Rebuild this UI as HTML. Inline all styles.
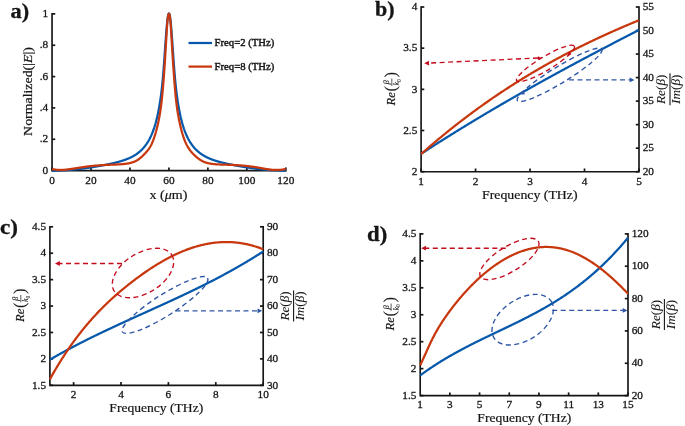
<!DOCTYPE html>
<html><head><meta charset="utf-8"><style>
html,body{margin:0;padding:0;background:#fff;}
svg{display:block;will-change:transform;}
text{font-family:"Liberation Serif",serif;fill:#151515;stroke:#151515;stroke-width:0.2px;}
text.tk{stroke-width:0.3px;}
text.lg{stroke-width:0.4px;}
text.pl{stroke-width:0.3px;}
text.thin{stroke-width:0.08px;}
</style></head><body>
<svg width="685" height="426" viewBox="0 0 685 426" font-family="Liberation Serif, serif">
<rect width="685" height="426" fill="#fff"/>
<path d="M52.05,13.900000000000006 L52.05,170.6 L285.8,170.6" fill="none" stroke="#151515" stroke-width="1.65" stroke-linejoin="miter" stroke-linecap="square"/>
<line x1="52.05" y1="170.60" x2="55.25" y2="170.60" stroke="#151515" stroke-width="1.7"/>
<line x1="52.05" y1="139.26" x2="55.25" y2="139.26" stroke="#151515" stroke-width="1.7"/>
<line x1="52.05" y1="107.92" x2="55.25" y2="107.92" stroke="#151515" stroke-width="1.7"/>
<line x1="52.05" y1="76.58" x2="55.25" y2="76.58" stroke="#151515" stroke-width="1.7"/>
<line x1="52.05" y1="45.24" x2="55.25" y2="45.24" stroke="#151515" stroke-width="1.7"/>
<line x1="52.05" y1="13.90" x2="55.25" y2="13.90" stroke="#151515" stroke-width="1.7"/>
<line x1="52.05" y1="170.60" x2="52.05" y2="167.40" stroke="#151515" stroke-width="1.7"/>
<line x1="91.01" y1="170.60" x2="91.01" y2="167.40" stroke="#151515" stroke-width="1.7"/>
<line x1="129.97" y1="170.60" x2="129.97" y2="167.40" stroke="#151515" stroke-width="1.7"/>
<line x1="168.93" y1="170.60" x2="168.93" y2="167.40" stroke="#151515" stroke-width="1.7"/>
<line x1="207.88" y1="170.60" x2="207.88" y2="167.40" stroke="#151515" stroke-width="1.7"/>
<line x1="246.84" y1="170.60" x2="246.84" y2="167.40" stroke="#151515" stroke-width="1.7"/>
<line x1="285.80" y1="170.60" x2="285.80" y2="167.40" stroke="#151515" stroke-width="1.7"/>
<text class="tk" transform="translate(48.25 173.80) scale(1.0 1)" font-size="11.3" text-anchor="end" font-weight="normal" font-style="normal" >0</text>
<text class="tk" transform="translate(48.25 142.46) scale(1.0 1)" font-size="11.3" text-anchor="end" font-weight="normal" font-style="normal" >.2</text>
<text class="tk" transform="translate(48.25 111.12) scale(1.0 1)" font-size="11.3" text-anchor="end" font-weight="normal" font-style="normal" >.4</text>
<text class="tk" transform="translate(48.25 79.78) scale(1.0 1)" font-size="11.3" text-anchor="end" font-weight="normal" font-style="normal" >.6</text>
<text class="tk" transform="translate(48.25 48.44) scale(1.0 1)" font-size="11.3" text-anchor="end" font-weight="normal" font-style="normal" >.8</text>
<text class="tk" transform="translate(48.25 17.10) scale(1.0 1)" font-size="11.3" text-anchor="end" font-weight="normal" font-style="normal" >1</text>
<text class="tk" transform="translate(52.05 183.50) scale(1.0 1)" font-size="11.3" text-anchor="middle" font-weight="normal" font-style="normal" >0</text>
<text class="tk" transform="translate(91.01 183.50) scale(1.0 1)" font-size="11.3" text-anchor="middle" font-weight="normal" font-style="normal" >20</text>
<text class="tk" transform="translate(129.97 183.50) scale(1.0 1)" font-size="11.3" text-anchor="middle" font-weight="normal" font-style="normal" >40</text>
<text class="tk" transform="translate(168.93 183.50) scale(1.0 1)" font-size="11.3" text-anchor="middle" font-weight="normal" font-style="normal" >60</text>
<text class="tk" transform="translate(207.88 183.50) scale(1.0 1)" font-size="11.3" text-anchor="middle" font-weight="normal" font-style="normal" >80</text>
<text class="tk" transform="translate(246.84 183.50) scale(1.0 1)" font-size="11.3" text-anchor="middle" font-weight="normal" font-style="normal" >100</text>
<text class="tk" transform="translate(285.80 183.50) scale(1.0 1)" font-size="11.3" text-anchor="middle" font-weight="normal" font-style="normal" >120</text>
<text transform="translate(149.59 198.60) scale(1.1047 1)" font-size="12.7" font-weight="normal" >x (<tspan font-style="italic">μ</tspan>m)</text>
<g transform="translate(32.2 135.5) rotate(-90)"><text transform="translate(-0.38 0) scale(1.1563 1)" font-size="12.0">Normalized(|<tspan font-style="italic">E</tspan>|)</text></g>
<text transform="translate(10.57 18.30) scale(1.0990 1)" font-size="20.3" font-weight="bold" class="pl">a)</text>
<path d="M52.05,170.65 L52.20,170.65 L52.34,170.65 L52.49,170.65 L52.63,170.65 L52.78,170.64 L52.93,170.64 L53.07,170.64 L53.22,170.64 L53.36,170.64 L53.51,170.64 L53.66,170.63 L53.80,170.63 L53.95,170.63 L54.10,170.63 L54.24,170.63 L54.39,170.62 L54.53,170.62 L54.68,170.62 L54.83,170.62 L54.97,170.61 L55.12,170.61 L55.26,170.61 L55.41,170.61 L55.56,170.60 L55.70,170.60 L55.85,170.60 L55.99,170.59 L56.14,170.59 L56.29,170.59 L56.43,170.58 L56.58,170.58 L56.72,170.58 L56.87,170.57 L57.02,170.57 L57.16,170.57 L57.31,170.56 L57.46,170.56 L57.60,170.55 L57.75,170.55 L57.89,170.54 L58.04,170.54 L58.19,170.54 L58.33,170.53 L58.48,170.53 L58.62,170.52 L58.77,170.52 L58.92,170.51 L59.06,170.51 L59.21,170.50 L59.35,170.50 L59.50,170.49 L59.65,170.49 L59.79,170.48 L59.94,170.48 L60.09,170.47 L60.23,170.47 L60.38,170.46 L60.52,170.45 L60.67,170.45 L60.82,170.44 L60.96,170.44 L61.11,170.43 L61.25,170.42 L61.40,170.42 L61.55,170.41 L61.69,170.41 L61.84,170.40 L61.98,170.39 L62.13,170.39 L62.28,170.38 L62.42,170.37 L62.57,170.37 L62.71,170.36 L62.86,170.35 L63.01,170.34 L63.15,170.34 L63.30,170.33 L63.45,170.32 L63.59,170.32 L63.74,170.31 L63.88,170.30 L64.03,170.29 L64.18,170.28 L64.32,170.28 L64.47,170.27 L64.61,170.26 L64.76,170.25 L64.91,170.24 L65.05,170.24 L65.20,170.23 L65.34,170.22 L65.49,170.21 L65.64,170.20 L65.78,170.19 L65.93,170.18 L66.07,170.17 L66.22,170.17 L66.37,170.16 L66.51,170.15 L66.66,170.14 L66.81,170.13 L66.95,170.12 L67.10,170.11 L67.24,170.10 L67.39,170.09 L67.54,170.08 L67.68,170.07 L67.83,170.06 L67.97,170.05 L68.12,170.04 L68.27,170.03 L68.41,170.02 L68.56,170.01 L68.70,170.00 L68.85,169.99 L69.00,169.98 L69.14,169.97 L69.29,169.96 L69.44,169.95 L69.58,169.93 L69.73,169.92 L69.87,169.91 L70.02,169.90 L70.17,169.89 L70.31,169.88 L70.46,169.87 L70.60,169.85 L70.75,169.84 L70.90,169.83 L71.04,169.82 L71.19,169.81 L71.33,169.80 L71.48,169.78 L71.63,169.77 L71.77,169.76 L71.92,169.75 L72.06,169.73 L72.21,169.72 L72.36,169.71 L72.50,169.70 L72.65,169.68 L72.80,169.67 L72.94,169.66 L73.09,169.64 L73.23,169.63 L73.38,169.62 L73.53,169.60 L73.67,169.59 L73.82,169.58 L73.96,169.56 L74.11,169.55 L74.26,169.54 L74.40,169.52 L74.55,169.51 L74.69,169.49 L74.84,169.48 L74.99,169.47 L75.13,169.45 L75.28,169.44 L75.42,169.42 L75.57,169.41 L75.72,169.39 L75.86,169.38 L76.01,169.36 L76.16,169.35 L76.30,169.33 L76.45,169.32 L76.59,169.30 L76.74,169.29 L76.89,169.27 L77.03,169.26 L77.18,169.24 L77.32,169.23 L77.47,169.21 L77.62,169.19 L77.76,169.18 L77.91,169.16 L78.05,169.15 L78.20,169.13 L78.35,169.11 L78.49,169.10 L78.64,169.08 L78.79,169.06 L78.93,169.05 L79.08,169.03 L79.22,169.01 L79.37,169.00 L79.52,168.98 L79.66,168.96 L79.81,168.95 L79.95,168.93 L80.10,168.91 L80.25,168.89 L80.39,168.88 L80.54,168.86 L80.68,168.84 L80.83,168.82 L80.98,168.81 L81.12,168.79 L81.27,168.77 L81.41,168.75 L81.56,168.73 L81.71,168.72 L81.85,168.70 L82.00,168.68 L82.15,168.66 L82.29,168.64 L82.44,168.62 L82.58,168.61 L82.73,168.59 L82.88,168.57 L83.02,168.55 L83.17,168.53 L83.31,168.51 L83.46,168.49 L83.61,168.47 L83.75,168.45 L83.90,168.43 L84.04,168.41 L84.19,168.39 L84.34,168.37 L84.48,168.35 L84.63,168.34 L84.78,168.32 L84.92,168.30 L85.07,168.28 L85.21,168.25 L85.36,168.23 L85.51,168.21 L85.65,168.19 L85.80,168.17 L85.94,168.15 L86.09,168.13 L86.24,168.11 L86.38,168.09 L86.53,168.07 L86.67,168.05 L86.82,168.03 L86.97,168.01 L87.11,167.99 L87.26,167.96 L87.40,167.94 L87.55,167.92 L87.70,167.90 L87.84,167.88 L87.99,167.86 L88.14,167.83 L88.28,167.81 L88.43,167.79 L88.57,167.77 L88.72,167.75 L88.87,167.73 L89.01,167.70 L89.16,167.68 L89.30,167.66 L89.45,167.64 L89.60,167.61 L89.74,167.59 L89.89,167.57 L90.03,167.55 L90.18,167.52 L90.33,167.50 L90.47,167.48 L90.62,167.45 L90.76,167.43 L90.91,167.41 L91.06,167.39 L91.20,167.36 L91.35,167.34 L91.50,167.32 L91.64,167.29 L91.79,167.27 L91.93,167.24 L92.08,167.22 L92.23,167.20 L92.37,167.17 L92.52,167.15 L92.66,167.13 L92.81,167.10 L92.96,167.08 L93.10,167.05 L93.25,167.03 L93.39,167.01 L93.54,166.98 L93.69,166.96 L93.83,166.93 L93.98,166.91 L94.12,166.88 L94.27,166.86 L94.42,166.83 L94.56,166.81 L94.71,166.78 L94.86,166.76 L95.00,166.73 L95.15,166.71 L95.29,166.68 L95.44,166.66 L95.59,166.63 L95.73,166.61 L95.88,166.58 L96.02,166.56 L96.17,166.53 L96.32,166.51 L96.46,166.48 L96.61,166.46 L96.75,166.43 L96.90,166.41 L97.05,166.38 L97.19,166.36 L97.34,166.33 L97.49,166.30 L97.63,166.28 L97.78,166.25 L97.92,166.23 L98.07,166.20 L98.22,166.17 L98.36,166.15 L98.51,166.12 L98.65,166.10 L98.80,166.07 L98.95,166.04 L99.09,166.02 L99.24,165.99 L99.38,165.97 L99.53,165.94 L99.68,165.91 L99.82,165.89 L99.97,165.86 L100.11,165.83 L100.26,165.81 L100.41,165.78 L100.55,165.75 L100.70,165.73 L100.85,165.70 L100.99,165.67 L101.14,165.65 L101.28,165.62 L101.43,165.59 L101.58,165.57 L101.72,165.54 L101.87,165.51 L102.01,165.48 L102.16,165.46 L102.31,165.43 L102.45,165.40 L102.60,165.38 L102.74,165.35 L102.89,165.32 L103.04,165.29 L103.18,165.27 L103.33,165.24 L103.47,165.21 L103.62,165.18 L103.77,165.15 L103.91,165.13 L104.06,165.10 L104.21,165.07 L104.35,165.04 L104.50,165.01 L104.64,164.99 L104.79,164.96 L104.94,164.93 L105.08,164.90 L105.23,164.87 L105.37,164.84 L105.52,164.82 L105.67,164.79 L105.81,164.76 L105.96,164.73 L106.10,164.70 L106.25,164.67 L106.40,164.64 L106.54,164.61 L106.69,164.58 L106.84,164.55 L106.98,164.53 L107.13,164.50 L107.27,164.47 L107.42,164.44 L107.57,164.41 L107.71,164.38 L107.86,164.35 L108.00,164.32 L108.15,164.29 L108.30,164.26 L108.44,164.23 L108.59,164.20 L108.73,164.17 L108.88,164.14 L109.03,164.10 L109.17,164.07 L109.32,164.04 L109.46,164.01 L109.61,163.98 L109.76,163.95 L109.90,163.92 L110.05,163.89 L110.20,163.86 L110.34,163.82 L110.49,163.79 L110.63,163.76 L110.78,163.73 L110.93,163.70 L111.07,163.67 L111.22,163.63 L111.36,163.60 L111.51,163.57 L111.66,163.54 L111.80,163.50 L111.95,163.47 L112.09,163.44 L112.24,163.40 L112.39,163.37 L112.53,163.34 L112.68,163.30 L112.82,163.27 L112.97,163.24 L113.12,163.20 L113.26,163.17 L113.41,163.14 L113.56,163.10 L113.70,163.07 L113.85,163.03 L113.99,163.00 L114.14,162.96 L114.29,162.93 L114.43,162.89 L114.58,162.86 L114.72,162.82 L114.87,162.79 L115.02,162.75 L115.16,162.72 L115.31,162.68 L115.45,162.64 L115.60,162.61 L115.75,162.57 L115.89,162.53 L116.04,162.50 L116.19,162.46 L116.33,162.42 L116.48,162.39 L116.62,162.35 L116.77,162.31 L116.92,162.27 L117.06,162.24 L117.21,162.20 L117.35,162.16 L117.50,162.12 L117.65,162.08 L117.79,162.04 L117.94,162.00 L118.08,161.96 L118.23,161.92 L118.38,161.88 L118.52,161.84 L118.67,161.80 L118.81,161.76 L118.96,161.72 L119.11,161.68 L119.25,161.64 L119.40,161.60 L119.55,161.56 L119.69,161.52 L119.84,161.48 L119.98,161.43 L120.13,161.39 L120.28,161.35 L120.42,161.31 L120.57,161.26 L120.71,161.22 L120.86,161.18 L121.01,161.13 L121.15,161.09 L121.30,161.04 L121.44,161.00 L121.59,160.95 L121.74,160.91 L121.88,160.86 L122.03,160.82 L122.17,160.77 L122.32,160.73 L122.47,160.68 L122.61,160.63 L122.76,160.59 L122.91,160.54 L123.05,160.49 L123.20,160.44 L123.34,160.39 L123.49,160.35 L123.64,160.30 L123.78,160.25 L123.93,160.20 L124.07,160.15 L124.22,160.10 L124.37,160.05 L124.51,160.00 L124.66,159.95 L124.80,159.89 L124.95,159.84 L125.10,159.79 L125.24,159.74 L125.39,159.68 L125.54,159.63 L125.68,159.58 L125.83,159.52 L125.97,159.47 L126.12,159.41 L126.27,159.36 L126.41,159.30 L126.56,159.25 L126.70,159.19 L126.85,159.13 L127.00,159.08 L127.14,159.02 L127.29,158.96 L127.43,158.90 L127.58,158.84 L127.73,158.78 L127.87,158.72 L128.02,158.66 L128.16,158.60 L128.31,158.54 L128.46,158.48 L128.60,158.42 L128.75,158.35 L128.90,158.29 L129.04,158.23 L129.19,158.16 L129.33,158.10 L129.48,158.03 L129.63,157.97 L129.77,157.90 L129.92,157.83 L130.06,157.77 L130.21,157.70 L130.36,157.63 L130.50,157.56 L130.65,157.49 L130.79,157.42 L130.94,157.35 L131.09,157.28 L131.23,157.21 L131.38,157.13 L131.52,157.06 L131.67,156.99 L131.82,156.91 L131.96,156.84 L132.11,156.76 L132.26,156.68 L132.40,156.61 L132.55,156.53 L132.69,156.45 L132.84,156.37 L132.99,156.29 L133.13,156.21 L133.28,156.13 L133.42,156.05 L133.57,155.96 L133.72,155.88 L133.86,155.79 L134.01,155.71 L134.15,155.62 L134.30,155.53 L134.45,155.45 L134.59,155.36 L134.74,155.27 L134.89,155.18 L135.03,155.09 L135.18,154.99 L135.32,154.90 L135.47,154.81 L135.62,154.71 L135.76,154.62 L135.91,154.52 L136.05,154.42 L136.20,154.32 L136.35,154.22 L136.49,154.12 L136.64,154.02 L136.78,153.92 L136.93,153.81 L137.08,153.71 L137.22,153.60 L137.37,153.49 L137.51,153.39 L137.66,153.28 L137.81,153.17 L137.95,153.06 L138.10,152.94 L138.25,152.83 L138.39,152.72 L138.54,152.60 L138.68,152.48 L138.83,152.36 L138.98,152.24 L139.12,152.12 L139.27,152.00 L139.41,151.88 L139.56,151.75 L139.71,151.63 L139.85,151.50 L140.00,151.37 L140.14,151.24 L140.29,151.11 L140.44,150.98 L140.58,150.84 L140.73,150.71 L140.88,150.57 L141.02,150.43 L141.17,150.29 L141.31,150.15 L141.46,150.01 L141.61,149.87 L141.75,149.72 L141.90,149.57 L142.04,149.42 L142.19,149.27 L142.34,149.12 L142.48,148.97 L142.63,148.81 L142.77,148.65 L142.92,148.50 L143.07,148.33 L143.21,148.17 L143.36,148.01 L143.50,147.84 L143.65,147.67 L143.80,147.50 L143.94,147.33 L144.09,147.16 L144.24,146.98 L144.38,146.80 L144.53,146.62 L144.67,146.44 L144.82,146.26 L144.97,146.07 L145.11,145.88 L145.26,145.69 L145.40,145.50 L145.55,145.30 L145.70,145.10 L145.84,144.90 L145.99,144.70 L146.13,144.50 L146.28,144.29 L146.43,144.08 L146.57,143.87 L146.72,143.65 L146.86,143.43 L147.01,143.21 L147.16,142.99 L147.30,142.76 L147.45,142.54 L147.60,142.30 L147.74,142.07 L147.89,141.83 L148.03,141.59 L148.18,141.35 L148.33,141.10 L148.47,140.85 L148.62,140.60 L148.76,140.34 L148.91,140.08 L149.06,139.82 L149.20,139.55 L149.35,139.28 L149.49,139.01 L149.64,138.73 L149.79,138.45 L149.93,138.17 L150.08,137.88 L150.22,137.59 L150.37,137.29 L150.52,136.99 L150.66,136.68 L150.81,136.37 L150.96,136.06 L151.10,135.74 L151.25,135.42 L151.39,135.09 L151.54,134.76 L151.69,134.42 L151.83,134.08 L151.98,133.74 L152.12,133.38 L152.27,133.03 L152.42,132.67 L152.56,132.30 L152.71,131.92 L152.85,131.55 L153.00,131.16 L153.15,130.77 L153.29,130.37 L153.44,129.97 L153.59,129.56 L153.73,129.15 L153.88,128.72 L154.02,128.30 L154.17,127.86 L154.32,127.42 L154.46,126.97 L154.61,126.51 L154.75,126.04 L154.90,125.57 L155.05,125.09 L155.19,124.60 L155.34,124.11 L155.48,123.60 L155.63,123.08 L155.78,122.56 L155.92,122.03 L156.07,121.49 L156.21,120.94 L156.36,120.37 L156.51,119.80 L156.65,119.22 L156.80,118.63 L156.95,118.02 L157.09,117.41 L157.24,116.78 L157.38,116.14 L157.53,115.49 L157.68,114.83 L157.82,114.15 L157.97,113.46 L158.11,112.76 L158.26,112.04 L158.41,111.31 L158.55,110.56 L158.70,109.80 L158.84,109.02 L158.99,108.22 L159.14,107.41 L159.28,106.58 L159.43,105.73 L159.57,104.87 L159.72,103.98 L159.87,103.08 L160.01,102.16 L160.16,101.21 L160.31,100.24 L160.45,99.25 L160.60,98.24 L160.74,97.20 L160.89,96.14 L161.04,95.04 L161.18,93.92 L161.33,92.77 L161.47,91.58 L161.62,90.36 L161.77,89.11 L161.91,87.81 L162.06,86.47 L162.20,85.09 L162.35,83.66 L162.50,82.18 L162.64,80.65 L162.79,79.07 L162.94,77.43 L163.08,75.73 L163.23,73.98 L163.37,72.18 L163.52,70.33 L163.67,68.43 L163.81,66.49 L163.96,64.51 L164.10,62.49 L164.25,60.44 L164.40,58.35 L164.54,56.25 L164.69,54.13 L164.83,52.00 L164.98,49.87 L165.13,47.74 L165.27,45.63 L165.42,43.55 L165.56,41.50 L165.71,39.49 L165.86,37.52 L166.00,35.59 L166.15,33.72 L166.30,31.89 L166.44,30.12 L166.59,28.42 L166.73,26.78 L166.88,25.21 L167.03,23.72 L167.17,22.31 L167.32,20.99 L167.46,19.75 L167.61,18.62 L167.76,17.59 L167.90,16.66 L168.05,15.84 L168.19,15.14 L168.34,14.55 L168.49,14.09 L168.63,13.74 L168.78,13.52 L168.93,13.42 L169.07,13.45 L169.22,13.61 L169.36,13.89 L169.51,14.30 L169.66,14.83 L169.80,15.49 L169.95,16.28 L170.09,17.19 L170.24,18.21 L170.39,19.36 L170.53,20.61 L170.68,21.97 L170.82,23.43 L170.97,24.98 L171.12,26.62 L171.26,28.32 L171.41,30.10 L171.55,31.93 L171.70,33.82 L171.85,35.76 L171.99,37.74 L172.14,39.75 L172.29,41.80 L172.43,43.87 L172.58,45.97 L172.72,48.08 L172.87,50.20 L173.02,52.32 L173.16,54.43 L173.31,56.52 L173.45,58.60 L173.60,60.65 L173.75,62.67 L173.89,64.66 L174.04,66.60 L174.18,68.51 L174.33,70.38 L174.48,72.20 L174.62,73.97 L174.77,75.70 L174.91,77.37 L175.06,78.99 L175.21,80.56 L175.35,82.08 L175.50,83.55 L175.65,84.97 L175.79,86.35 L175.94,87.69 L176.08,88.99 L176.23,90.25 L176.38,91.47 L176.52,92.67 L176.67,93.82 L176.81,94.95 L176.96,96.05 L177.11,97.12 L177.25,98.17 L177.40,99.19 L177.54,100.19 L177.69,101.16 L177.84,102.11 L177.98,103.04 L178.13,103.95 L178.27,104.84 L178.42,105.71 L178.57,106.56 L178.71,107.40 L178.86,108.21 L179.01,109.01 L179.15,109.79 L179.30,110.56 L179.44,111.31 L179.59,112.05 L179.74,112.77 L179.88,113.47 L180.03,114.16 L180.17,114.84 L180.32,115.51 L180.47,116.16 L180.61,116.80 L180.76,117.43 L180.90,118.05 L181.05,118.65 L181.20,119.25 L181.34,119.83 L181.49,120.40 L181.64,120.97 L181.78,121.52 L181.93,122.06 L182.07,122.60 L182.22,123.12 L182.37,123.63 L182.51,124.14 L182.66,124.64 L182.80,125.13 L182.95,125.61 L183.10,126.08 L183.24,126.55 L183.39,127.00 L183.53,127.45 L183.68,127.90 L183.83,128.33 L183.97,128.76 L184.12,129.18 L184.26,129.60 L184.41,130.01 L184.56,130.41 L184.70,130.81 L184.85,131.20 L185.00,131.58 L185.14,131.96 L185.29,132.33 L185.43,132.70 L185.58,133.06 L185.73,133.42 L185.87,133.77 L186.02,134.11 L186.16,134.46 L186.31,134.79 L186.46,135.12 L186.60,135.45 L186.75,135.77 L186.89,136.09 L187.04,136.40 L187.19,136.71 L187.33,137.01 L187.48,137.32 L187.62,137.61 L187.77,137.90 L187.92,138.19 L188.06,138.48 L188.21,138.76 L188.36,139.03 L188.50,139.31 L188.65,139.57 L188.79,139.84 L188.94,140.10 L189.09,140.36 L189.23,140.62 L189.38,140.87 L189.52,141.12 L189.67,141.36 L189.82,141.61 L189.96,141.85 L190.11,142.08 L190.25,142.32 L190.40,142.55 L190.55,142.78 L190.69,143.00 L190.84,143.22 L190.99,143.44 L191.13,143.66 L191.28,143.87 L191.42,144.09 L191.57,144.29 L191.72,144.50 L191.86,144.71 L192.01,144.91 L192.15,145.11 L192.30,145.30 L192.45,145.50 L192.59,145.69 L192.74,145.88 L192.88,146.07 L193.03,146.25 L193.18,146.44 L193.32,146.62 L193.47,146.80 L193.61,146.98 L193.76,147.15 L193.91,147.33 L194.05,147.50 L194.20,147.67 L194.35,147.83 L194.49,148.00 L194.64,148.16 L194.78,148.33 L194.93,148.49 L195.08,148.65 L195.22,148.80 L195.37,148.96 L195.51,149.11 L195.66,149.26 L195.81,149.41 L195.95,149.56 L196.10,149.71 L196.24,149.85 L196.39,150.00 L196.54,150.14 L196.68,150.28 L196.83,150.42 L196.97,150.56 L197.12,150.69 L197.27,150.83 L197.41,150.96 L197.56,151.09 L197.71,151.23 L197.85,151.35 L198.00,151.48 L198.14,151.61 L198.29,151.74 L198.44,151.86 L198.58,151.98 L198.73,152.10 L198.87,152.22 L199.02,152.34 L199.17,152.46 L199.31,152.58 L199.46,152.69 L199.60,152.81 L199.75,152.92 L199.90,153.03 L200.04,153.15 L200.19,153.26 L200.34,153.36 L200.48,153.47 L200.63,153.58 L200.77,153.68 L200.92,153.79 L201.07,153.89 L201.21,154.00 L201.36,154.10 L201.50,154.20 L201.65,154.30 L201.80,154.40 L201.94,154.49 L202.09,154.59 L202.23,154.69 L202.38,154.78 L202.53,154.88 L202.67,154.97 L202.82,155.06 L202.96,155.15 L203.11,155.24 L203.26,155.33 L203.40,155.42 L203.55,155.51 L203.70,155.60 L203.84,155.68 L203.99,155.77 L204.13,155.85 L204.28,155.94 L204.43,156.02 L204.57,156.10 L204.72,156.19 L204.86,156.27 L205.01,156.35 L205.16,156.43 L205.30,156.51 L205.45,156.58 L205.59,156.66 L205.74,156.74 L205.89,156.81 L206.03,156.89 L206.18,156.96 L206.32,157.04 L206.47,157.11 L206.62,157.18 L206.76,157.26 L206.91,157.33 L207.06,157.40 L207.20,157.47 L207.35,157.54 L207.49,157.61 L207.64,157.68 L207.79,157.75 L207.93,157.81 L208.08,157.88 L208.22,157.95 L208.37,158.01 L208.52,158.08 L208.66,158.14 L208.81,158.21 L208.95,158.27 L209.10,158.34 L209.25,158.40 L209.39,158.46 L209.54,158.52 L209.69,158.59 L209.83,158.65 L209.98,158.71 L210.12,158.77 L210.27,158.83 L210.42,158.89 L210.56,158.94 L210.71,159.00 L210.85,159.06 L211.00,159.12 L211.15,159.18 L211.29,159.23 L211.44,159.29 L211.58,159.34 L211.73,159.40 L211.88,159.46 L212.02,159.51 L212.17,159.56 L212.31,159.62 L212.46,159.67 L212.61,159.72 L212.75,159.78 L212.90,159.83 L213.05,159.88 L213.19,159.93 L213.34,159.99 L213.48,160.04 L213.63,160.09 L213.78,160.14 L213.92,160.19 L214.07,160.24 L214.21,160.29 L214.36,160.34 L214.51,160.39 L214.65,160.43 L214.80,160.48 L214.94,160.53 L215.09,160.58 L215.24,160.63 L215.38,160.67 L215.53,160.72 L215.68,160.77 L215.82,160.81 L215.97,160.86 L216.11,160.90 L216.26,160.95 L216.41,160.99 L216.55,161.04 L216.70,161.08 L216.84,161.13 L216.99,161.17 L217.14,161.22 L217.28,161.26 L217.43,161.30 L217.57,161.35 L217.72,161.39 L217.87,161.43 L218.01,161.47 L218.16,161.52 L218.30,161.56 L218.45,161.60 L218.60,161.64 L218.74,161.68 L218.89,161.72 L219.04,161.76 L219.18,161.80 L219.33,161.84 L219.47,161.88 L219.62,161.92 L219.77,161.96 L219.91,162.00 L220.06,162.04 L220.20,162.08 L220.35,162.12 L220.50,162.16 L220.64,162.20 L220.79,162.24 L220.93,162.28 L221.08,162.31 L221.23,162.35 L221.37,162.39 L221.52,162.43 L221.66,162.46 L221.81,162.50 L221.96,162.54 L222.10,162.58 L222.25,162.61 L222.40,162.65 L222.54,162.68 L222.69,162.72 L222.83,162.76 L222.98,162.79 L223.13,162.83 L223.27,162.86 L223.42,162.90 L223.56,162.93 L223.71,162.97 L223.86,163.00 L224.00,163.04 L224.15,163.07 L224.29,163.11 L224.44,163.14 L224.59,163.18 L224.73,163.21 L224.88,163.25 L225.02,163.28 L225.17,163.31 L225.32,163.35 L225.46,163.38 L225.61,163.41 L225.76,163.45 L225.90,163.48 L226.05,163.51 L226.19,163.55 L226.34,163.58 L226.49,163.61 L226.63,163.64 L226.78,163.68 L226.92,163.71 L227.07,163.74 L227.22,163.77 L227.36,163.80 L227.51,163.84 L227.65,163.87 L227.80,163.90 L227.95,163.93 L228.09,163.96 L228.24,163.99 L228.39,164.02 L228.53,164.05 L228.68,164.09 L228.82,164.12 L228.97,164.15 L229.12,164.18 L229.26,164.21 L229.41,164.24 L229.55,164.27 L229.70,164.30 L229.85,164.33 L229.99,164.36 L230.14,164.39 L230.28,164.42 L230.43,164.45 L230.58,164.48 L230.72,164.51 L230.87,164.54 L231.01,164.57 L231.16,164.60 L231.31,164.63 L231.45,164.66 L231.60,164.69 L231.75,164.71 L231.89,164.74 L232.04,164.77 L232.18,164.80 L232.33,164.83 L232.48,164.86 L232.62,164.89 L232.77,164.92 L232.91,164.94 L233.06,164.97 L233.21,165.00 L233.35,165.03 L233.50,165.06 L233.64,165.09 L233.79,165.11 L233.94,165.14 L234.08,165.17 L234.23,165.20 L234.38,165.23 L234.52,165.25 L234.67,165.28 L234.81,165.31 L234.96,165.34 L235.11,165.36 L235.25,165.39 L235.40,165.42 L235.54,165.45 L235.69,165.47 L235.84,165.50 L235.98,165.53 L236.13,165.55 L236.27,165.58 L236.42,165.61 L236.57,165.63 L236.71,165.66 L236.86,165.69 L237.00,165.72 L237.15,165.74 L237.30,165.77 L237.44,165.80 L237.59,165.82 L237.74,165.85 L237.88,165.87 L238.03,165.90 L238.17,165.93 L238.32,165.95 L238.47,165.98 L238.61,166.01 L238.76,166.03 L238.90,166.06 L239.05,166.08 L239.20,166.11 L239.34,166.14 L239.49,166.16 L239.63,166.19 L239.78,166.21 L239.93,166.24 L240.07,166.27 L240.22,166.29 L240.36,166.32 L240.51,166.34 L240.66,166.37 L240.80,166.39 L240.95,166.42 L241.10,166.44 L241.24,166.47 L241.39,166.50 L241.53,166.52 L241.68,166.55 L241.83,166.57 L241.97,166.60 L242.12,166.62 L242.26,166.65 L242.41,166.67 L242.56,166.70 L242.70,166.72 L242.85,166.75 L242.99,166.77 L243.14,166.80 L243.29,166.82 L243.43,166.84 L243.58,166.87 L243.72,166.89 L243.87,166.92 L244.02,166.94 L244.16,166.97 L244.31,166.99 L244.46,167.02 L244.60,167.04 L244.75,167.06 L244.89,167.09 L245.04,167.11 L245.19,167.14 L245.33,167.16 L245.48,167.18 L245.62,167.21 L245.77,167.23 L245.92,167.25 L246.06,167.28 L246.21,167.30 L246.35,167.32 L246.50,167.35 L246.65,167.37 L246.79,167.39 L246.94,167.42 L247.09,167.44 L247.23,167.46 L247.38,167.48 L247.52,167.51 L247.67,167.53 L247.82,167.55 L247.96,167.58 L248.11,167.60 L248.25,167.62 L248.40,167.64 L248.55,167.66 L248.69,167.69 L248.84,167.71 L248.98,167.73 L249.13,167.75 L249.28,167.77 L249.42,167.80 L249.57,167.82 L249.71,167.84 L249.86,167.86 L250.01,167.88 L250.15,167.90 L250.30,167.93 L250.45,167.95 L250.59,167.97 L250.74,167.99 L250.88,168.01 L251.03,168.03 L251.18,168.05 L251.32,168.07 L251.47,168.09 L251.61,168.11 L251.76,168.13 L251.91,168.16 L252.05,168.18 L252.20,168.20 L252.34,168.22 L252.49,168.24 L252.64,168.26 L252.78,168.28 L252.93,168.30 L253.07,168.32 L253.22,168.34 L253.37,168.36 L253.51,168.38 L253.66,168.40 L253.81,168.41 L253.95,168.43 L254.10,168.45 L254.24,168.47 L254.39,168.49 L254.54,168.51 L254.68,168.53 L254.83,168.55 L254.97,168.57 L255.12,168.59 L255.27,168.60 L255.41,168.62 L255.56,168.64 L255.70,168.66 L255.85,168.68 L256.00,168.70 L256.14,168.72 L256.29,168.73 L256.44,168.75 L256.58,168.77 L256.73,168.79 L256.87,168.80 L257.02,168.82 L257.17,168.84 L257.31,168.86 L257.46,168.87 L257.60,168.89 L257.75,168.91 L257.90,168.93 L258.04,168.94 L258.19,168.96 L258.33,168.98 L258.48,168.99 L258.63,169.01 L258.77,169.03 L258.92,169.04 L259.06,169.06 L259.21,169.08 L259.36,169.09 L259.50,169.11 L259.65,169.13 L259.80,169.14 L259.94,169.16 L260.09,169.17 L260.23,169.19 L260.38,169.21 L260.53,169.22 L260.67,169.24 L260.82,169.25 L260.96,169.27 L261.11,169.28 L261.26,169.30 L261.40,169.31 L261.55,169.33 L261.69,169.34 L261.84,169.36 L261.99,169.37 L262.13,169.39 L262.28,169.40 L262.43,169.42 L262.57,169.43 L262.72,169.44 L262.86,169.46 L263.01,169.47 L263.16,169.49 L263.30,169.50 L263.45,169.52 L263.59,169.53 L263.74,169.54 L263.89,169.56 L264.03,169.57 L264.18,169.58 L264.32,169.60 L264.47,169.61 L264.62,169.62 L264.76,169.64 L264.91,169.65 L265.05,169.66 L265.20,169.68 L265.35,169.69 L265.49,169.70 L265.64,169.71 L265.79,169.73 L265.93,169.74 L266.08,169.75 L266.22,169.76 L266.37,169.78 L266.52,169.79 L266.66,169.80 L266.81,169.81 L266.95,169.82 L267.10,169.84 L267.25,169.85 L267.39,169.86 L267.54,169.87 L267.68,169.88 L267.83,169.89 L267.98,169.90 L268.12,169.92 L268.27,169.93 L268.41,169.94 L268.56,169.95 L268.71,169.96 L268.85,169.97 L269.00,169.98 L269.15,169.99 L269.29,170.00 L269.44,170.01 L269.58,170.02 L269.73,170.03 L269.88,170.04 L270.02,170.05 L270.17,170.06 L270.31,170.07 L270.46,170.08 L270.61,170.09 L270.75,170.10 L270.90,170.11 L271.04,170.12 L271.19,170.13 L271.34,170.14 L271.48,170.15 L271.63,170.16 L271.77,170.17 L271.92,170.18 L272.07,170.19 L272.21,170.19 L272.36,170.20 L272.51,170.21 L272.65,170.22 L272.80,170.23 L272.94,170.24 L273.09,170.24 L273.24,170.25 L273.38,170.26 L273.53,170.27 L273.67,170.28 L273.82,170.29 L273.97,170.29 L274.11,170.30 L274.26,170.31 L274.40,170.32 L274.55,170.32 L274.70,170.33 L274.84,170.34 L274.99,170.35 L275.14,170.35 L275.28,170.36 L275.43,170.37 L275.57,170.37 L275.72,170.38 L275.87,170.39 L276.01,170.39 L276.16,170.40 L276.30,170.41 L276.45,170.41 L276.60,170.42 L276.74,170.43 L276.89,170.43 L277.03,170.44 L277.18,170.44 L277.33,170.45 L277.47,170.46 L277.62,170.46 L277.76,170.47 L277.91,170.47 L278.06,170.48 L278.20,170.48 L278.35,170.49 L278.50,170.49 L278.64,170.50 L278.79,170.50 L278.93,170.51 L279.08,170.51 L279.23,170.52 L279.37,170.52 L279.52,170.53 L279.66,170.53 L279.81,170.54 L279.96,170.54 L280.10,170.55 L280.25,170.55 L280.39,170.55 L280.54,170.56 L280.69,170.56 L280.83,170.57 L280.98,170.57 L281.12,170.57 L281.27,170.58 L281.42,170.58 L281.56,170.58 L281.71,170.59 L281.86,170.59 L282.00,170.60 L282.15,170.60 L282.29,170.60 L282.44,170.60 L282.59,170.61 L282.73,170.61 L282.88,170.61 L283.02,170.62 L283.17,170.62 L283.32,170.62 L283.46,170.62 L283.61,170.63 L283.75,170.63 L283.90,170.63 L284.05,170.63 L284.19,170.64 L284.34,170.64 L284.49,170.64 L284.63,170.64 L284.78,170.64 L284.92,170.64 L285.07,170.65 L285.22,170.65 L285.36,170.65 L285.51,170.65 L285.65,170.65 L285.80,170.65" fill="none" stroke="#0558aa" stroke-width="2.25" stroke-linejoin="round" stroke-linecap="butt"/>
<path d="M52.05,169.00 L52.20,169.04 L52.34,169.07 L52.49,169.11 L52.63,169.14 L52.78,169.18 L52.93,169.21 L53.07,169.24 L53.22,169.28 L53.36,169.31 L53.51,169.34 L53.66,169.37 L53.80,169.40 L53.95,169.43 L54.10,169.45 L54.24,169.48 L54.39,169.51 L54.53,169.53 L54.68,169.56 L54.83,169.58 L54.97,169.60 L55.12,169.63 L55.26,169.65 L55.41,169.67 L55.56,169.69 L55.70,169.71 L55.85,169.73 L55.99,169.75 L56.14,169.77 L56.29,169.78 L56.43,169.80 L56.58,169.81 L56.72,169.83 L56.87,169.84 L57.02,169.86 L57.16,169.87 L57.31,169.88 L57.46,169.89 L57.60,169.91 L57.75,169.92 L57.89,169.93 L58.04,169.93 L58.19,169.94 L58.33,169.95 L58.48,169.96 L58.62,169.96 L58.77,169.97 L58.92,169.98 L59.06,169.98 L59.21,169.99 L59.35,169.99 L59.50,169.99 L59.65,169.99 L59.79,170.00 L59.94,170.00 L60.09,170.00 L60.23,170.00 L60.38,170.00 L60.52,170.00 L60.67,170.00 L60.82,169.99 L60.96,169.99 L61.11,169.99 L61.25,169.99 L61.40,169.98 L61.55,169.98 L61.69,169.97 L61.84,169.97 L61.98,169.96 L62.13,169.96 L62.28,169.95 L62.42,169.94 L62.57,169.93 L62.71,169.93 L62.86,169.92 L63.01,169.91 L63.15,169.90 L63.30,169.89 L63.45,169.88 L63.59,169.87 L63.74,169.86 L63.88,169.84 L64.03,169.83 L64.18,169.82 L64.32,169.81 L64.47,169.79 L64.61,169.78 L64.76,169.77 L64.91,169.75 L65.05,169.74 L65.20,169.72 L65.34,169.71 L65.49,169.69 L65.64,169.68 L65.78,169.66 L65.93,169.64 L66.07,169.63 L66.22,169.61 L66.37,169.59 L66.51,169.58 L66.66,169.56 L66.81,169.54 L66.95,169.52 L67.10,169.50 L67.24,169.49 L67.39,169.47 L67.54,169.45 L67.68,169.43 L67.83,169.41 L67.97,169.39 L68.12,169.37 L68.27,169.35 L68.41,169.33 L68.56,169.31 L68.70,169.29 L68.85,169.27 L69.00,169.25 L69.14,169.23 L69.29,169.21 L69.44,169.19 L69.58,169.17 L69.73,169.15 L69.87,169.12 L70.02,169.10 L70.17,169.08 L70.31,169.06 L70.46,169.04 L70.60,169.02 L70.75,169.00 L70.90,168.98 L71.04,168.95 L71.19,168.93 L71.33,168.91 L71.48,168.89 L71.63,168.87 L71.77,168.85 L71.92,168.82 L72.06,168.80 L72.21,168.78 L72.36,168.76 L72.50,168.74 L72.65,168.72 L72.80,168.69 L72.94,168.67 L73.09,168.65 L73.23,168.63 L73.38,168.61 L73.53,168.58 L73.67,168.56 L73.82,168.54 L73.96,168.52 L74.11,168.49 L74.26,168.47 L74.40,168.45 L74.55,168.43 L74.69,168.41 L74.84,168.38 L74.99,168.36 L75.13,168.34 L75.28,168.32 L75.42,168.29 L75.57,168.27 L75.72,168.25 L75.86,168.23 L76.01,168.20 L76.16,168.18 L76.30,168.16 L76.45,168.14 L76.59,168.11 L76.74,168.09 L76.89,168.07 L77.03,168.04 L77.18,168.02 L77.32,168.00 L77.47,167.98 L77.62,167.95 L77.76,167.93 L77.91,167.91 L78.05,167.89 L78.20,167.86 L78.35,167.84 L78.49,167.82 L78.64,167.80 L78.79,167.77 L78.93,167.75 L79.08,167.73 L79.22,167.71 L79.37,167.68 L79.52,167.66 L79.66,167.64 L79.81,167.62 L79.95,167.59 L80.10,167.57 L80.25,167.55 L80.39,167.53 L80.54,167.50 L80.68,167.48 L80.83,167.46 L80.98,167.44 L81.12,167.42 L81.27,167.39 L81.41,167.37 L81.56,167.35 L81.71,167.33 L81.85,167.31 L82.00,167.28 L82.15,167.26 L82.29,167.24 L82.44,167.22 L82.58,167.20 L82.73,167.18 L82.88,167.15 L83.02,167.13 L83.17,167.11 L83.31,167.09 L83.46,167.07 L83.61,167.05 L83.75,167.03 L83.90,167.01 L84.04,166.98 L84.19,166.96 L84.34,166.94 L84.48,166.92 L84.63,166.90 L84.78,166.88 L84.92,166.86 L85.07,166.84 L85.21,166.82 L85.36,166.80 L85.51,166.78 L85.65,166.76 L85.80,166.74 L85.94,166.72 L86.09,166.70 L86.24,166.68 L86.38,166.66 L86.53,166.64 L86.67,166.62 L86.82,166.60 L86.97,166.59 L87.11,166.57 L87.26,166.55 L87.40,166.53 L87.55,166.51 L87.70,166.49 L87.84,166.47 L87.99,166.46 L88.14,166.44 L88.28,166.42 L88.43,166.40 L88.57,166.38 L88.72,166.37 L88.87,166.35 L89.01,166.33 L89.16,166.31 L89.30,166.30 L89.45,166.28 L89.60,166.26 L89.74,166.24 L89.89,166.23 L90.03,166.21 L90.18,166.19 L90.33,166.18 L90.47,166.16 L90.62,166.14 L90.76,166.13 L90.91,166.11 L91.06,166.10 L91.20,166.08 L91.35,166.06 L91.50,166.05 L91.64,166.03 L91.79,166.02 L91.93,166.00 L92.08,165.99 L92.23,165.97 L92.37,165.96 L92.52,165.94 L92.66,165.93 L92.81,165.91 L92.96,165.90 L93.10,165.88 L93.25,165.87 L93.39,165.85 L93.54,165.84 L93.69,165.82 L93.83,165.81 L93.98,165.80 L94.12,165.78 L94.27,165.77 L94.42,165.75 L94.56,165.74 L94.71,165.73 L94.86,165.71 L95.00,165.70 L95.15,165.69 L95.29,165.67 L95.44,165.66 L95.59,165.65 L95.73,165.63 L95.88,165.62 L96.02,165.61 L96.17,165.60 L96.32,165.58 L96.46,165.57 L96.61,165.56 L96.75,165.55 L96.90,165.53 L97.05,165.52 L97.19,165.51 L97.34,165.50 L97.49,165.49 L97.63,165.47 L97.78,165.46 L97.92,165.45 L98.07,165.44 L98.22,165.43 L98.36,165.42 L98.51,165.41 L98.65,165.39 L98.80,165.38 L98.95,165.37 L99.09,165.36 L99.24,165.35 L99.38,165.34 L99.53,165.33 L99.68,165.32 L99.82,165.31 L99.97,165.30 L100.11,165.29 L100.26,165.28 L100.41,165.27 L100.55,165.26 L100.70,165.25 L100.85,165.24 L100.99,165.23 L101.14,165.22 L101.28,165.21 L101.43,165.20 L101.58,165.19 L101.72,165.18 L101.87,165.17 L102.01,165.16 L102.16,165.15 L102.31,165.15 L102.45,165.14 L102.60,165.13 L102.74,165.12 L102.89,165.11 L103.04,165.10 L103.18,165.09 L103.33,165.08 L103.47,165.08 L103.62,165.07 L103.77,165.06 L103.91,165.05 L104.06,165.04 L104.21,165.04 L104.35,165.03 L104.50,165.02 L104.64,165.01 L104.79,165.00 L104.94,165.00 L105.08,164.99 L105.23,164.98 L105.37,164.97 L105.52,164.97 L105.67,164.96 L105.81,164.95 L105.96,164.94 L106.10,164.94 L106.25,164.93 L106.40,164.92 L106.54,164.92 L106.69,164.91 L106.84,164.90 L106.98,164.90 L107.13,164.89 L107.27,164.88 L107.42,164.87 L107.57,164.87 L107.71,164.86 L107.86,164.86 L108.00,164.85 L108.15,164.84 L108.30,164.84 L108.44,164.83 L108.59,164.82 L108.73,164.82 L108.88,164.81 L109.03,164.80 L109.17,164.80 L109.32,164.79 L109.46,164.79 L109.61,164.78 L109.76,164.77 L109.90,164.77 L110.05,164.76 L110.20,164.76 L110.34,164.75 L110.49,164.74 L110.63,164.74 L110.78,164.73 L110.93,164.73 L111.07,164.72 L111.22,164.71 L111.36,164.71 L111.51,164.70 L111.66,164.70 L111.80,164.69 L111.95,164.68 L112.09,164.68 L112.24,164.67 L112.39,164.67 L112.53,164.66 L112.68,164.66 L112.82,164.65 L112.97,164.64 L113.12,164.64 L113.26,164.63 L113.41,164.63 L113.56,164.62 L113.70,164.61 L113.85,164.61 L113.99,164.60 L114.14,164.60 L114.29,164.59 L114.43,164.59 L114.58,164.58 L114.72,164.57 L114.87,164.57 L115.02,164.56 L115.16,164.55 L115.31,164.55 L115.45,164.54 L115.60,164.54 L115.75,164.53 L115.89,164.52 L116.04,164.52 L116.19,164.51 L116.33,164.50 L116.48,164.50 L116.62,164.49 L116.77,164.48 L116.92,164.48 L117.06,164.47 L117.21,164.46 L117.35,164.46 L117.50,164.45 L117.65,164.44 L117.79,164.43 L117.94,164.43 L118.08,164.42 L118.23,164.41 L118.38,164.40 L118.52,164.40 L118.67,164.39 L118.81,164.38 L118.96,164.37 L119.11,164.36 L119.25,164.36 L119.40,164.35 L119.55,164.34 L119.69,164.33 L119.84,164.32 L119.98,164.31 L120.13,164.30 L120.28,164.29 L120.42,164.28 L120.57,164.27 L120.71,164.26 L120.86,164.25 L121.01,164.24 L121.15,164.23 L121.30,164.22 L121.44,164.21 L121.59,164.20 L121.74,164.19 L121.88,164.18 L122.03,164.17 L122.17,164.15 L122.32,164.14 L122.47,164.13 L122.61,164.12 L122.76,164.11 L122.91,164.09 L123.05,164.08 L123.20,164.07 L123.34,164.05 L123.49,164.04 L123.64,164.02 L123.78,164.01 L123.93,163.99 L124.07,163.98 L124.22,163.96 L124.37,163.95 L124.51,163.93 L124.66,163.92 L124.80,163.90 L124.95,163.88 L125.10,163.87 L125.24,163.85 L125.39,163.83 L125.54,163.81 L125.68,163.79 L125.83,163.77 L125.97,163.75 L126.12,163.73 L126.27,163.71 L126.41,163.69 L126.56,163.67 L126.70,163.65 L126.85,163.63 L127.00,163.61 L127.14,163.58 L127.29,163.56 L127.43,163.54 L127.58,163.51 L127.73,163.49 L127.87,163.46 L128.02,163.44 L128.16,163.41 L128.31,163.38 L128.46,163.36 L128.60,163.33 L128.75,163.30 L128.90,163.27 L129.04,163.24 L129.19,163.21 L129.33,163.18 L129.48,163.15 L129.63,163.12 L129.77,163.09 L129.92,163.05 L130.06,163.02 L130.21,162.99 L130.36,162.95 L130.50,162.91 L130.65,162.88 L130.79,162.84 L130.94,162.80 L131.09,162.76 L131.23,162.72 L131.38,162.68 L131.52,162.64 L131.67,162.60 L131.82,162.56 L131.96,162.51 L132.11,162.47 L132.26,162.42 L132.40,162.38 L132.55,162.33 L132.69,162.28 L132.84,162.23 L132.99,162.18 L133.13,162.13 L133.28,162.08 L133.42,162.03 L133.57,161.97 L133.72,161.92 L133.86,161.86 L134.01,161.81 L134.15,161.75 L134.30,161.69 L134.45,161.63 L134.59,161.56 L134.74,161.50 L134.89,161.44 L135.03,161.37 L135.18,161.30 L135.32,161.24 L135.47,161.17 L135.62,161.10 L135.76,161.02 L135.91,160.95 L136.05,160.88 L136.20,160.80 L136.35,160.72 L136.49,160.64 L136.64,160.56 L136.78,160.48 L136.93,160.39 L137.08,160.31 L137.22,160.22 L137.37,160.13 L137.51,160.04 L137.66,159.95 L137.81,159.86 L137.95,159.76 L138.10,159.66 L138.25,159.56 L138.39,159.46 L138.54,159.36 L138.68,159.25 L138.83,159.15 L138.98,159.04 L139.12,158.93 L139.27,158.82 L139.41,158.70 L139.56,158.59 L139.71,158.47 L139.85,158.35 L140.00,158.23 L140.14,158.11 L140.29,157.99 L140.44,157.87 L140.58,157.74 L140.73,157.62 L140.88,157.49 L141.02,157.36 L141.17,157.23 L141.31,157.10 L141.46,156.96 L141.61,156.83 L141.75,156.69 L141.90,156.56 L142.04,156.42 L142.19,156.28 L142.34,156.14 L142.48,156.00 L142.63,155.86 L142.77,155.72 L142.92,155.58 L143.07,155.43 L143.21,155.29 L143.36,155.14 L143.50,155.00 L143.65,154.85 L143.80,154.71 L143.94,154.56 L144.09,154.41 L144.24,154.27 L144.38,154.12 L144.53,153.97 L144.67,153.82 L144.82,153.67 L144.97,153.52 L145.11,153.36 L145.26,153.21 L145.40,153.06 L145.55,152.90 L145.70,152.74 L145.84,152.58 L145.99,152.43 L146.13,152.26 L146.28,152.10 L146.43,151.94 L146.57,151.77 L146.72,151.60 L146.86,151.43 L147.01,151.26 L147.16,151.09 L147.30,150.91 L147.45,150.74 L147.60,150.55 L147.74,150.37 L147.89,150.19 L148.03,150.00 L148.18,149.81 L148.33,149.61 L148.47,149.41 L148.62,149.21 L148.76,149.01 L148.91,148.80 L149.06,148.59 L149.20,148.37 L149.35,148.15 L149.49,147.93 L149.64,147.70 L149.79,147.47 L149.93,147.23 L150.08,146.99 L150.22,146.74 L150.37,146.48 L150.52,146.22 L150.66,145.96 L150.81,145.69 L150.96,145.41 L151.10,145.12 L151.25,144.83 L151.39,144.53 L151.54,144.23 L151.69,143.92 L151.83,143.60 L151.98,143.27 L152.12,142.94 L152.27,142.59 L152.42,142.25 L152.56,141.89 L152.71,141.53 L152.85,141.16 L153.00,140.78 L153.15,140.40 L153.29,140.01 L153.44,139.61 L153.59,139.21 L153.73,138.80 L153.88,138.38 L154.02,137.96 L154.17,137.53 L154.32,137.09 L154.46,136.64 L154.61,136.19 L154.75,135.74 L154.90,135.28 L155.05,134.81 L155.19,134.33 L155.34,133.85 L155.48,133.37 L155.63,132.87 L155.78,132.37 L155.92,131.86 L156.07,131.35 L156.21,130.82 L156.36,130.29 L156.51,129.75 L156.65,129.20 L156.80,128.64 L156.95,128.07 L157.09,127.49 L157.24,126.90 L157.38,126.30 L157.53,125.69 L157.68,125.07 L157.82,124.43 L157.97,123.78 L158.11,123.12 L158.26,122.44 L158.41,121.75 L158.55,121.05 L158.70,120.33 L158.84,119.59 L158.99,118.83 L159.14,118.06 L159.28,117.26 L159.43,116.45 L159.57,115.62 L159.72,114.76 L159.87,113.89 L160.01,112.99 L160.16,112.06 L160.31,111.11 L160.45,110.13 L160.60,109.12 L160.74,108.09 L160.89,107.02 L161.04,105.92 L161.18,104.78 L161.33,103.61 L161.47,102.40 L161.62,101.15 L161.77,99.86 L161.91,98.53 L162.06,97.15 L162.20,95.73 L162.35,94.26 L162.50,92.74 L162.64,91.18 L162.79,89.57 L162.94,87.92 L163.08,86.21 L163.23,84.46 L163.37,82.66 L163.52,80.81 L163.67,78.92 L163.81,76.97 L163.96,74.98 L164.10,72.94 L164.25,70.86 L164.40,68.74 L164.54,66.56 L164.69,64.35 L164.83,62.10 L164.98,59.81 L165.13,57.49 L165.27,55.14 L165.42,52.75 L165.56,50.35 L165.71,47.92 L165.86,45.48 L166.00,43.03 L166.15,40.59 L166.30,38.16 L166.44,35.76 L166.59,33.40 L166.73,31.10 L166.88,28.88 L167.03,26.76 L167.17,24.75 L167.32,22.88 L167.46,21.17 L167.61,19.64 L167.76,18.32 L167.90,17.18 L168.05,16.23 L168.19,15.46 L168.34,14.85 L168.49,14.40 L168.63,14.09 L168.78,13.91 L168.93,13.85 L169.07,13.88 L169.22,14.03 L169.36,14.32 L169.51,14.75 L169.66,15.34 L169.80,16.10 L169.95,17.05 L170.09,18.20 L170.24,19.55 L170.39,21.10 L170.53,22.86 L170.68,24.77 L170.82,26.83 L170.97,29.01 L171.12,31.27 L171.26,33.61 L171.41,36.00 L171.55,38.41 L171.70,40.85 L171.85,43.28 L171.99,45.70 L172.14,48.10 L172.29,50.47 L172.43,52.81 L172.58,55.13 L172.72,57.41 L172.87,59.66 L173.02,61.89 L173.16,64.07 L173.31,66.23 L173.45,68.36 L173.60,70.45 L173.75,72.51 L173.89,74.53 L174.04,76.52 L174.18,78.48 L174.33,80.41 L174.48,82.31 L174.62,84.16 L174.77,85.98 L174.91,87.76 L175.06,89.49 L175.21,91.17 L175.35,92.80 L175.50,94.38 L175.65,95.91 L175.79,97.38 L175.94,98.80 L176.08,100.16 L176.23,101.47 L176.38,102.73 L176.52,103.94 L176.67,105.10 L176.81,106.22 L176.96,107.30 L177.11,108.34 L177.25,109.35 L177.40,110.33 L177.54,111.28 L177.69,112.20 L177.84,113.09 L177.98,113.96 L178.13,114.81 L178.27,115.64 L178.42,116.45 L178.57,117.24 L178.71,118.01 L178.86,118.77 L179.01,119.52 L179.15,120.25 L179.30,120.97 L179.44,121.67 L179.59,122.37 L179.74,123.05 L179.88,123.73 L180.03,124.39 L180.17,125.03 L180.32,125.67 L180.47,126.30 L180.61,126.91 L180.76,127.52 L180.90,128.11 L181.05,128.70 L181.20,129.27 L181.34,129.84 L181.49,130.39 L181.64,130.94 L181.78,131.47 L181.93,132.00 L182.07,132.51 L182.22,133.02 L182.37,133.52 L182.51,134.01 L182.66,134.49 L182.80,134.96 L182.95,135.43 L183.10,135.88 L183.24,136.33 L183.39,136.77 L183.53,137.20 L183.68,137.63 L183.83,138.05 L183.97,138.46 L184.12,138.86 L184.26,139.25 L184.41,139.64 L184.56,140.02 L184.70,140.39 L184.85,140.76 L185.00,141.12 L185.14,141.47 L185.29,141.82 L185.43,142.16 L185.58,142.49 L185.73,142.82 L185.87,143.14 L186.02,143.46 L186.16,143.77 L186.31,144.07 L186.46,144.37 L186.60,144.66 L186.75,144.95 L186.89,145.23 L187.04,145.51 L187.19,145.78 L187.33,146.04 L187.48,146.30 L187.62,146.56 L187.77,146.81 L187.92,147.06 L188.06,147.30 L188.21,147.54 L188.36,147.77 L188.50,148.01 L188.65,148.23 L188.79,148.46 L188.94,148.68 L189.09,148.89 L189.23,149.10 L189.38,149.31 L189.52,149.52 L189.67,149.73 L189.82,149.93 L189.96,150.12 L190.11,150.32 L190.25,150.51 L190.40,150.70 L190.55,150.89 L190.69,151.07 L190.84,151.26 L190.99,151.44 L191.13,151.61 L191.28,151.79 L191.42,151.96 L191.57,152.14 L191.72,152.31 L191.86,152.47 L192.01,152.64 L192.15,152.80 L192.30,152.97 L192.45,153.13 L192.59,153.29 L192.74,153.45 L192.88,153.60 L193.03,153.76 L193.18,153.91 L193.32,154.06 L193.47,154.21 L193.61,154.36 L193.76,154.51 L193.91,154.66 L194.05,154.80 L194.20,154.95 L194.35,155.09 L194.49,155.23 L194.64,155.37 L194.78,155.51 L194.93,155.65 L195.08,155.79 L195.22,155.93 L195.37,156.06 L195.51,156.20 L195.66,156.33 L195.81,156.46 L195.95,156.59 L196.10,156.72 L196.24,156.85 L196.39,156.98 L196.54,157.11 L196.68,157.23 L196.83,157.35 L196.97,157.48 L197.12,157.60 L197.27,157.72 L197.41,157.84 L197.56,157.95 L197.71,158.07 L197.85,158.18 L198.00,158.30 L198.14,158.41 L198.29,158.52 L198.44,158.63 L198.58,158.74 L198.73,158.85 L198.87,158.95 L199.02,159.06 L199.17,159.16 L199.31,159.26 L199.46,159.36 L199.60,159.46 L199.75,159.56 L199.90,159.66 L200.04,159.75 L200.19,159.85 L200.34,159.94 L200.48,160.03 L200.63,160.12 L200.77,160.21 L200.92,160.30 L201.07,160.39 L201.21,160.47 L201.36,160.56 L201.50,160.64 L201.65,160.72 L201.80,160.80 L201.94,160.88 L202.09,160.96 L202.23,161.03 L202.38,161.11 L202.53,161.18 L202.67,161.26 L202.82,161.33 L202.96,161.40 L203.11,161.47 L203.26,161.54 L203.40,161.60 L203.55,161.67 L203.70,161.73 L203.84,161.80 L203.99,161.86 L204.13,161.92 L204.28,161.98 L204.43,162.04 L204.57,162.09 L204.72,162.15 L204.86,162.20 L205.01,162.26 L205.16,162.31 L205.30,162.36 L205.45,162.41 L205.59,162.46 L205.74,162.51 L205.89,162.56 L206.03,162.60 L206.18,162.65 L206.32,162.69 L206.47,162.74 L206.62,162.78 L206.76,162.82 L206.91,162.86 L207.06,162.91 L207.20,162.94 L207.35,162.98 L207.49,163.02 L207.64,163.06 L207.79,163.10 L207.93,163.13 L208.08,163.17 L208.22,163.20 L208.37,163.23 L208.52,163.27 L208.66,163.30 L208.81,163.33 L208.95,163.36 L209.10,163.39 L209.25,163.42 L209.39,163.45 L209.54,163.48 L209.69,163.51 L209.83,163.53 L209.98,163.56 L210.12,163.59 L210.27,163.61 L210.42,163.64 L210.56,163.66 L210.71,163.69 L210.85,163.71 L211.00,163.73 L211.15,163.75 L211.29,163.78 L211.44,163.80 L211.58,163.82 L211.73,163.84 L211.88,163.86 L212.02,163.88 L212.17,163.90 L212.31,163.92 L212.46,163.94 L212.61,163.95 L212.75,163.97 L212.90,163.99 L213.05,164.01 L213.19,164.02 L213.34,164.04 L213.48,164.05 L213.63,164.07 L213.78,164.09 L213.92,164.10 L214.07,164.11 L214.21,164.13 L214.36,164.14 L214.51,164.16 L214.65,164.17 L214.80,164.18 L214.94,164.20 L215.09,164.21 L215.24,164.22 L215.38,164.23 L215.53,164.24 L215.68,164.26 L215.82,164.27 L215.97,164.28 L216.11,164.29 L216.26,164.30 L216.41,164.31 L216.55,164.32 L216.70,164.33 L216.84,164.34 L216.99,164.35 L217.14,164.36 L217.28,164.37 L217.43,164.38 L217.57,164.38 L217.72,164.39 L217.87,164.40 L218.01,164.41 L218.16,164.42 L218.30,164.43 L218.45,164.43 L218.60,164.44 L218.74,164.45 L218.89,164.46 L219.04,164.46 L219.18,164.47 L219.33,164.48 L219.47,164.48 L219.62,164.49 L219.77,164.50 L219.91,164.50 L220.06,164.51 L220.20,164.52 L220.35,164.52 L220.50,164.53 L220.64,164.53 L220.79,164.54 L220.93,164.55 L221.08,164.55 L221.23,164.56 L221.37,164.56 L221.52,164.57 L221.66,164.57 L221.81,164.58 L221.96,164.58 L222.10,164.59 L222.25,164.59 L222.40,164.60 L222.54,164.60 L222.69,164.61 L222.83,164.61 L222.98,164.62 L223.13,164.62 L223.27,164.63 L223.42,164.63 L223.56,164.64 L223.71,164.64 L223.86,164.65 L224.00,164.65 L224.15,164.66 L224.29,164.66 L224.44,164.67 L224.59,164.67 L224.73,164.68 L224.88,164.68 L225.02,164.69 L225.17,164.69 L225.32,164.69 L225.46,164.70 L225.61,164.70 L225.76,164.71 L225.90,164.71 L226.05,164.72 L226.19,164.72 L226.34,164.73 L226.49,164.73 L226.63,164.74 L226.78,164.74 L226.92,164.74 L227.07,164.75 L227.22,164.75 L227.36,164.76 L227.51,164.76 L227.65,164.77 L227.80,164.77 L227.95,164.78 L228.09,164.78 L228.24,164.79 L228.39,164.79 L228.53,164.80 L228.68,164.80 L228.82,164.81 L228.97,164.81 L229.12,164.82 L229.26,164.82 L229.41,164.83 L229.55,164.83 L229.70,164.84 L229.85,164.84 L229.99,164.85 L230.14,164.85 L230.28,164.86 L230.43,164.86 L230.58,164.87 L230.72,164.88 L230.87,164.88 L231.01,164.89 L231.16,164.89 L231.31,164.90 L231.45,164.90 L231.60,164.91 L231.75,164.92 L231.89,164.92 L232.04,164.93 L232.18,164.93 L232.33,164.94 L232.48,164.95 L232.62,164.95 L232.77,164.96 L232.91,164.97 L233.06,164.97 L233.21,164.98 L233.35,164.99 L233.50,164.99 L233.64,165.00 L233.79,165.01 L233.94,165.01 L234.08,165.02 L234.23,165.03 L234.38,165.04 L234.52,165.04 L234.67,165.05 L234.81,165.06 L234.96,165.07 L235.11,165.07 L235.25,165.08 L235.40,165.09 L235.54,165.10 L235.69,165.10 L235.84,165.11 L235.98,165.12 L236.13,165.13 L236.27,165.14 L236.42,165.15 L236.57,165.15 L236.71,165.16 L236.86,165.17 L237.00,165.18 L237.15,165.19 L237.30,165.20 L237.44,165.21 L237.59,165.22 L237.74,165.23 L237.88,165.24 L238.03,165.24 L238.17,165.25 L238.32,165.26 L238.47,165.27 L238.61,165.28 L238.76,165.29 L238.90,165.30 L239.05,165.31 L239.20,165.32 L239.34,165.33 L239.49,165.34 L239.63,165.36 L239.78,165.37 L239.93,165.38 L240.07,165.39 L240.22,165.40 L240.36,165.41 L240.51,165.42 L240.66,165.43 L240.80,165.44 L240.95,165.45 L241.10,165.47 L241.24,165.48 L241.39,165.49 L241.53,165.50 L241.68,165.51 L241.83,165.53 L241.97,165.54 L242.12,165.55 L242.26,165.56 L242.41,165.57 L242.56,165.59 L242.70,165.60 L242.85,165.61 L242.99,165.63 L243.14,165.64 L243.29,165.65 L243.43,165.67 L243.58,165.68 L243.72,165.69 L243.87,165.71 L244.02,165.72 L244.16,165.73 L244.31,165.75 L244.46,165.76 L244.60,165.78 L244.75,165.79 L244.89,165.80 L245.04,165.82 L245.19,165.83 L245.33,165.85 L245.48,165.86 L245.62,165.88 L245.77,165.89 L245.92,165.91 L246.06,165.92 L246.21,165.94 L246.35,165.95 L246.50,165.97 L246.65,165.98 L246.79,166.00 L246.94,166.02 L247.09,166.03 L247.23,166.05 L247.38,166.06 L247.52,166.08 L247.67,166.10 L247.82,166.11 L247.96,166.13 L248.11,166.15 L248.25,166.16 L248.40,166.18 L248.55,166.20 L248.69,166.22 L248.84,166.23 L248.98,166.25 L249.13,166.27 L249.28,166.29 L249.42,166.30 L249.57,166.32 L249.71,166.34 L249.86,166.36 L250.01,166.38 L250.15,166.39 L250.30,166.41 L250.45,166.43 L250.59,166.45 L250.74,166.47 L250.88,166.49 L251.03,166.51 L251.18,166.53 L251.32,166.55 L251.47,166.57 L251.61,166.58 L251.76,166.60 L251.91,166.62 L252.05,166.64 L252.20,166.66 L252.34,166.68 L252.49,166.70 L252.64,166.72 L252.78,166.75 L252.93,166.77 L253.07,166.79 L253.22,166.81 L253.37,166.83 L253.51,166.85 L253.66,166.87 L253.81,166.89 L253.95,166.91 L254.10,166.93 L254.24,166.96 L254.39,166.98 L254.54,167.00 L254.68,167.02 L254.83,167.04 L254.97,167.07 L255.12,167.09 L255.27,167.11 L255.41,167.13 L255.56,167.16 L255.70,167.18 L255.85,167.20 L256.00,167.22 L256.14,167.25 L256.29,167.27 L256.44,167.29 L256.58,167.32 L256.73,167.34 L256.87,167.36 L257.02,167.39 L257.17,167.41 L257.31,167.44 L257.46,167.46 L257.60,167.48 L257.75,167.51 L257.90,167.53 L258.04,167.56 L258.19,167.58 L258.33,167.61 L258.48,167.63 L258.63,167.66 L258.77,167.68 L258.92,167.71 L259.06,167.73 L259.21,167.76 L259.36,167.78 L259.50,167.81 L259.65,167.83 L259.80,167.86 L259.94,167.89 L260.09,167.91 L260.23,167.94 L260.38,167.96 L260.53,167.99 L260.67,168.02 L260.82,168.04 L260.96,168.07 L261.11,168.10 L261.26,168.12 L261.40,168.15 L261.55,168.18 L261.69,168.20 L261.84,168.23 L261.99,168.26 L262.13,168.28 L262.28,168.31 L262.43,168.34 L262.57,168.37 L262.72,168.39 L262.86,168.42 L263.01,168.45 L263.16,168.47 L263.30,168.50 L263.45,168.53 L263.59,168.55 L263.74,168.58 L263.89,168.61 L264.03,168.63 L264.18,168.66 L264.32,168.68 L264.47,168.71 L264.62,168.74 L264.76,168.76 L264.91,168.79 L265.05,168.81 L265.20,168.84 L265.35,168.86 L265.49,168.89 L265.64,168.91 L265.79,168.94 L265.93,168.96 L266.08,168.99 L266.22,169.01 L266.37,169.04 L266.52,169.06 L266.66,169.08 L266.81,169.11 L266.95,169.13 L267.10,169.16 L267.25,169.18 L267.39,169.20 L267.54,169.22 L267.68,169.25 L267.83,169.27 L267.98,169.29 L268.12,169.31 L268.27,169.33 L268.41,169.35 L268.56,169.37 L268.71,169.40 L268.85,169.42 L269.00,169.44 L269.15,169.46 L269.29,169.47 L269.44,169.49 L269.58,169.51 L269.73,169.53 L269.88,169.55 L270.02,169.57 L270.17,169.59 L270.31,169.60 L270.46,169.62 L270.61,169.64 L270.75,169.65 L270.90,169.67 L271.04,169.68 L271.19,169.70 L271.34,169.71 L271.48,169.73 L271.63,169.74 L271.77,169.76 L271.92,169.77 L272.07,169.78 L272.21,169.80 L272.36,169.81 L272.51,169.82 L272.65,169.83 L272.80,169.85 L272.94,169.86 L273.09,169.87 L273.24,169.88 L273.38,169.89 L273.53,169.90 L273.67,169.91 L273.82,169.91 L273.97,169.92 L274.11,169.93 L274.26,169.94 L274.40,169.94 L274.55,169.95 L274.70,169.96 L274.84,169.96 L274.99,169.97 L275.14,169.97 L275.28,169.98 L275.43,169.98 L275.57,169.98 L275.72,169.99 L275.87,169.99 L276.01,169.99 L276.16,169.99 L276.30,169.99 L276.45,170.00 L276.60,170.00 L276.74,170.00 L276.89,169.99 L277.03,169.99 L277.18,169.99 L277.33,169.99 L277.47,169.99 L277.62,169.98 L277.76,169.98 L277.91,169.98 L278.06,169.97 L278.20,169.97 L278.35,169.96 L278.50,169.95 L278.64,169.95 L278.79,169.94 L278.93,169.93 L279.08,169.93 L279.23,169.92 L279.37,169.91 L279.52,169.90 L279.66,169.89 L279.81,169.88 L279.96,169.87 L280.10,169.85 L280.25,169.84 L280.39,169.83 L280.54,169.82 L280.69,169.80 L280.83,169.79 L280.98,169.77 L281.12,169.76 L281.27,169.74 L281.42,169.72 L281.56,169.71 L281.71,169.69 L281.86,169.67 L282.00,169.65 L282.15,169.63 L282.29,169.61 L282.44,169.59 L282.59,169.57 L282.73,169.55 L282.88,169.53 L283.02,169.50 L283.17,169.48 L283.32,169.46 L283.46,169.43 L283.61,169.41 L283.75,169.38 L283.90,169.36 L284.05,169.33 L284.19,169.30 L284.34,169.27 L284.49,169.25 L284.63,169.22 L284.78,169.19 L284.92,169.16 L285.07,169.13 L285.22,169.09 L285.36,169.06 L285.51,169.03 L285.65,169.00 L285.80,168.96" fill="none" stroke="#c8380e" stroke-width="2.25" stroke-linejoin="round" stroke-linecap="butt"/>
<line x1="188.5" y1="43.0" x2="212" y2="43.0" stroke="#0558aa" stroke-width="2.25"/>
<line x1="188.5" y1="66.6" x2="212" y2="66.6" stroke="#c8380e" stroke-width="2.25"/>
<text transform="translate(214.51 46.20) scale(1.1171 1)" font-size="9.6" font-weight="normal" class="lg">Freq=2 (THz)</text>
<text transform="translate(214.51 69.90) scale(1.1171 1)" font-size="9.6" font-weight="normal" class="lg">Freq=8 (THz)</text>
<path d="M421.1,7.0 L421.1,171.7 L639.0,171.7 L639.0,7.0" fill="none" stroke="#151515" stroke-width="1.65" stroke-linejoin="miter" stroke-linecap="square"/>
<line x1="421.10" y1="171.70" x2="424.30" y2="171.70" stroke="#151515" stroke-width="1.7"/>
<line x1="421.10" y1="130.52" x2="424.30" y2="130.52" stroke="#151515" stroke-width="1.7"/>
<line x1="421.10" y1="89.35" x2="424.30" y2="89.35" stroke="#151515" stroke-width="1.7"/>
<line x1="421.10" y1="48.17" x2="424.30" y2="48.17" stroke="#151515" stroke-width="1.7"/>
<line x1="421.10" y1="7.00" x2="424.30" y2="7.00" stroke="#151515" stroke-width="1.7"/>
<line x1="639.00" y1="171.70" x2="635.80" y2="171.70" stroke="#151515" stroke-width="1.7"/>
<line x1="639.00" y1="148.17" x2="635.80" y2="148.17" stroke="#151515" stroke-width="1.7"/>
<line x1="639.00" y1="124.64" x2="635.80" y2="124.64" stroke="#151515" stroke-width="1.7"/>
<line x1="639.00" y1="101.11" x2="635.80" y2="101.11" stroke="#151515" stroke-width="1.7"/>
<line x1="639.00" y1="77.59" x2="635.80" y2="77.59" stroke="#151515" stroke-width="1.7"/>
<line x1="639.00" y1="54.06" x2="635.80" y2="54.06" stroke="#151515" stroke-width="1.7"/>
<line x1="639.00" y1="30.53" x2="635.80" y2="30.53" stroke="#151515" stroke-width="1.7"/>
<line x1="639.00" y1="7.00" x2="635.80" y2="7.00" stroke="#151515" stroke-width="1.7"/>
<line x1="421.10" y1="171.70" x2="421.10" y2="168.50" stroke="#151515" stroke-width="1.7"/>
<line x1="475.58" y1="171.70" x2="475.58" y2="168.50" stroke="#151515" stroke-width="1.7"/>
<line x1="530.05" y1="171.70" x2="530.05" y2="168.50" stroke="#151515" stroke-width="1.7"/>
<line x1="584.52" y1="171.70" x2="584.52" y2="168.50" stroke="#151515" stroke-width="1.7"/>
<line x1="639.00" y1="171.70" x2="639.00" y2="168.50" stroke="#151515" stroke-width="1.7"/>
<text class="tk" transform="translate(417.30 174.90) scale(1.0 1)" font-size="11.3" text-anchor="end" font-weight="normal" font-style="normal" >2</text>
<text class="tk" transform="translate(417.30 133.72) scale(1.0 1)" font-size="11.3" text-anchor="end" font-weight="normal" font-style="normal" >2.5</text>
<text class="tk" transform="translate(417.30 92.55) scale(1.0 1)" font-size="11.3" text-anchor="end" font-weight="normal" font-style="normal" >3</text>
<text class="tk" transform="translate(417.30 51.38) scale(1.0 1)" font-size="11.3" text-anchor="end" font-weight="normal" font-style="normal" >3.5</text>
<text class="tk" transform="translate(417.30 10.20) scale(1.0 1)" font-size="11.3" text-anchor="end" font-weight="normal" font-style="normal" >4</text>
<text class="tk" transform="translate(642.70 174.90) scale(1.0 1)" font-size="11.3" text-anchor="start" font-weight="normal" font-style="normal" >20</text>
<text class="tk" transform="translate(642.70 151.37) scale(1.0 1)" font-size="11.3" text-anchor="start" font-weight="normal" font-style="normal" >25</text>
<text class="tk" transform="translate(642.70 127.84) scale(1.0 1)" font-size="11.3" text-anchor="start" font-weight="normal" font-style="normal" >30</text>
<text class="tk" transform="translate(642.70 104.31) scale(1.0 1)" font-size="11.3" text-anchor="start" font-weight="normal" font-style="normal" >35</text>
<text class="tk" transform="translate(642.70 80.79) scale(1.0 1)" font-size="11.3" text-anchor="start" font-weight="normal" font-style="normal" >40</text>
<text class="tk" transform="translate(642.70 57.26) scale(1.0 1)" font-size="11.3" text-anchor="start" font-weight="normal" font-style="normal" >45</text>
<text class="tk" transform="translate(642.70 33.73) scale(1.0 1)" font-size="11.3" text-anchor="start" font-weight="normal" font-style="normal" >50</text>
<text class="tk" transform="translate(642.70 10.20) scale(1.0 1)" font-size="11.3" text-anchor="start" font-weight="normal" font-style="normal" >55</text>
<text class="tk" transform="translate(421.10 184.50) scale(1.0 1)" font-size="11.3" text-anchor="middle" font-weight="normal" font-style="normal" >1</text>
<text class="tk" transform="translate(475.58 184.50) scale(1.0 1)" font-size="11.3" text-anchor="middle" font-weight="normal" font-style="normal" >2</text>
<text class="tk" transform="translate(530.05 184.50) scale(1.0 1)" font-size="11.3" text-anchor="middle" font-weight="normal" font-style="normal" >3</text>
<text class="tk" transform="translate(584.52 184.50) scale(1.0 1)" font-size="11.3" text-anchor="middle" font-weight="normal" font-style="normal" >4</text>
<text class="tk" transform="translate(639.00 184.50) scale(1.0 1)" font-size="11.3" text-anchor="middle" font-weight="normal" font-style="normal" >5</text>
<text transform="translate(482.02 198.90) scale(1.0984 1)" font-size="12.6" font-weight="normal" >Frequency (THz)</text>
<text transform="translate(375.03 16.00) scale(1.0829 1)" font-size="20.3" font-weight="bold" class="pl">b)</text>
<path d="M421.10,153.82 L421.83,153.35 L422.56,152.87 L423.29,152.40 L424.02,151.93 L424.74,151.45 L425.47,150.98 L426.20,150.51 L426.93,150.04 L427.66,149.57 L428.39,149.10 L429.12,148.63 L429.85,148.16 L430.57,147.69 L431.30,147.22 L432.03,146.75 L432.76,146.29 L433.49,145.82 L434.22,145.35 L434.95,144.89 L435.68,144.42 L436.40,143.96 L437.13,143.50 L437.86,143.03 L438.59,142.57 L439.32,142.11 L440.05,141.65 L440.78,141.18 L441.51,140.72 L442.23,140.26 L442.96,139.80 L443.69,139.34 L444.42,138.88 L445.15,138.43 L445.88,137.97 L446.61,137.51 L447.34,137.05 L448.06,136.60 L448.79,136.14 L449.52,135.69 L450.25,135.23 L450.98,134.78 L451.71,134.32 L452.44,133.87 L453.17,133.42 L453.89,132.96 L454.62,132.51 L455.35,132.06 L456.08,131.61 L456.81,131.16 L457.54,130.71 L458.27,130.26 L459.00,129.81 L459.72,129.36 L460.45,128.91 L461.18,128.47 L461.91,128.02 L462.64,127.57 L463.37,127.13 L464.10,126.68 L464.83,126.23 L465.55,125.79 L466.28,125.34 L467.01,124.90 L467.74,124.46 L468.47,124.01 L469.20,123.57 L469.93,123.13 L470.66,122.69 L471.38,122.25 L472.11,121.80 L472.84,121.36 L473.57,120.92 L474.30,120.48 L475.03,120.05 L475.76,119.61 L476.49,119.17 L477.21,118.73 L477.94,118.29 L478.67,117.86 L479.40,117.42 L480.13,116.98 L480.86,116.55 L481.59,116.11 L482.32,115.68 L483.04,115.24 L483.77,114.81 L484.50,114.38 L485.23,113.94 L485.96,113.51 L486.69,113.08 L487.42,112.65 L488.15,112.22 L488.87,111.79 L489.60,111.35 L490.33,110.92 L491.06,110.49 L491.79,110.07 L492.52,109.64 L493.25,109.21 L493.98,108.78 L494.71,108.35 L495.43,107.93 L496.16,107.50 L496.89,107.07 L497.62,106.65 L498.35,106.22 L499.08,105.80 L499.81,105.37 L500.54,104.95 L501.26,104.52 L501.99,104.10 L502.72,103.68 L503.45,103.25 L504.18,102.83 L504.91,102.41 L505.64,101.99 L506.37,101.56 L507.09,101.14 L507.82,100.72 L508.55,100.30 L509.28,99.88 L510.01,99.46 L510.74,99.04 L511.47,98.63 L512.20,98.21 L512.92,97.79 L513.65,97.37 L514.38,96.96 L515.11,96.54 L515.84,96.12 L516.57,95.71 L517.30,95.29 L518.03,94.88 L518.75,94.46 L519.48,94.05 L520.21,93.63 L520.94,93.22 L521.67,92.80 L522.40,92.39 L523.13,91.98 L523.86,91.57 L524.58,91.15 L525.31,90.74 L526.04,90.33 L526.77,89.92 L527.50,89.51 L528.23,89.10 L528.96,88.69 L529.69,88.28 L530.41,87.87 L531.14,87.46 L531.87,87.05 L532.60,86.64 L533.33,86.24 L534.06,85.83 L534.79,85.42 L535.52,85.01 L536.24,84.61 L536.97,84.20 L537.70,83.80 L538.43,83.39 L539.16,82.98 L539.89,82.58 L540.62,82.18 L541.35,81.77 L542.07,81.37 L542.80,80.96 L543.53,80.56 L544.26,80.16 L544.99,79.75 L545.72,79.35 L546.45,78.95 L547.18,78.55 L547.90,78.15 L548.63,77.75 L549.36,77.34 L550.09,76.94 L550.82,76.54 L551.55,76.14 L552.28,75.74 L553.01,75.34 L553.73,74.95 L554.46,74.55 L555.19,74.15 L555.92,73.75 L556.65,73.35 L557.38,72.96 L558.11,72.56 L558.84,72.16 L559.56,71.76 L560.29,71.37 L561.02,70.97 L561.75,70.58 L562.48,70.18 L563.21,69.79 L563.94,69.39 L564.67,69.00 L565.39,68.60 L566.12,68.21 L566.85,67.81 L567.58,67.42 L568.31,67.03 L569.04,66.63 L569.77,66.24 L570.50,65.85 L571.23,65.46 L571.95,65.06 L572.68,64.67 L573.41,64.28 L574.14,63.89 L574.87,63.50 L575.60,63.11 L576.33,62.72 L577.06,62.33 L577.78,61.94 L578.51,61.55 L579.24,61.16 L579.97,60.77 L580.70,60.38 L581.43,59.99 L582.16,59.60 L582.89,59.22 L583.61,58.83 L584.34,58.44 L585.07,58.05 L585.80,57.67 L586.53,57.28 L587.26,56.89 L587.99,56.51 L588.72,56.12 L589.44,55.73 L590.17,55.35 L590.90,54.96 L591.63,54.58 L592.36,54.19 L593.09,53.81 L593.82,53.42 L594.55,53.04 L595.27,52.66 L596.00,52.27 L596.73,51.89 L597.46,51.50 L598.19,51.12 L598.92,50.74 L599.65,50.36 L600.38,49.97 L601.10,49.59 L601.83,49.21 L602.56,48.83 L603.29,48.45 L604.02,48.06 L604.75,47.68 L605.48,47.30 L606.21,46.92 L606.93,46.54 L607.66,46.16 L608.39,45.78 L609.12,45.40 L609.85,45.02 L610.58,44.64 L611.31,44.26 L612.04,43.88 L612.76,43.50 L613.49,43.12 L614.22,42.74 L614.95,42.37 L615.68,41.99 L616.41,41.61 L617.14,41.23 L617.87,40.85 L618.59,40.48 L619.32,40.10 L620.05,39.72 L620.78,39.34 L621.51,38.97 L622.24,38.59 L622.97,38.21 L623.70,37.84 L624.42,37.46 L625.15,37.09 L625.88,36.71 L626.61,36.33 L627.34,35.96 L628.07,35.58 L628.80,35.21 L629.53,34.83 L630.25,34.46 L630.98,34.08 L631.71,33.71 L632.44,33.34 L633.17,32.96 L633.90,32.59 L634.63,32.21 L635.36,31.84 L636.08,31.47 L636.81,31.09 L637.54,30.72 L638.27,30.35 L639.00,29.97" fill="none" stroke="#0558aa" stroke-width="2.25" stroke-linejoin="round" stroke-linecap="butt"/>
<path d="M421.10,154.10 L421.83,153.46 L422.56,152.81 L423.29,152.17 L424.02,151.53 L424.74,150.89 L425.47,150.26 L426.20,149.62 L426.93,148.99 L427.66,148.35 L428.39,147.72 L429.12,147.09 L429.85,146.47 L430.57,145.84 L431.30,145.22 L432.03,144.59 L432.76,143.97 L433.49,143.35 L434.22,142.74 L434.95,142.12 L435.68,141.51 L436.40,140.89 L437.13,140.28 L437.86,139.67 L438.59,139.06 L439.32,138.46 L440.05,137.85 L440.78,137.25 L441.51,136.65 L442.23,136.05 L442.96,135.45 L443.69,134.85 L444.42,134.25 L445.15,133.66 L445.88,133.07 L446.61,132.48 L447.34,131.89 L448.06,131.30 L448.79,130.71 L449.52,130.13 L450.25,129.54 L450.98,128.96 L451.71,128.38 L452.44,127.80 L453.17,127.22 L453.89,126.65 L454.62,126.07 L455.35,125.50 L456.08,124.93 L456.81,124.36 L457.54,123.79 L458.27,123.22 L459.00,122.66 L459.72,122.09 L460.45,121.53 L461.18,120.97 L461.91,120.41 L462.64,119.85 L463.37,119.30 L464.10,118.74 L464.83,118.19 L465.55,117.63 L466.28,117.08 L467.01,116.53 L467.74,115.99 L468.47,115.44 L469.20,114.89 L469.93,114.35 L470.66,113.81 L471.38,113.27 L472.11,112.73 L472.84,112.19 L473.57,111.65 L474.30,111.12 L475.03,110.58 L475.76,110.05 L476.49,109.52 L477.21,108.99 L477.94,108.46 L478.67,107.94 L479.40,107.41 L480.13,106.89 L480.86,106.37 L481.59,105.84 L482.32,105.32 L483.04,104.81 L483.77,104.29 L484.50,103.77 L485.23,103.26 L485.96,102.75 L486.69,102.24 L487.42,101.72 L488.15,101.22 L488.87,100.71 L489.60,100.20 L490.33,99.70 L491.06,99.19 L491.79,98.69 L492.52,98.19 L493.25,97.69 L493.98,97.19 L494.71,96.70 L495.43,96.20 L496.16,95.71 L496.89,95.21 L497.62,94.72 L498.35,94.23 L499.08,93.74 L499.81,93.26 L500.54,92.77 L501.26,92.29 L501.99,91.80 L502.72,91.32 L503.45,90.84 L504.18,90.36 L504.91,89.88 L505.64,89.40 L506.37,88.93 L507.09,88.45 L507.82,87.98 L508.55,87.51 L509.28,87.04 L510.01,86.57 L510.74,86.10 L511.47,85.63 L512.20,85.16 L512.92,84.70 L513.65,84.24 L514.38,83.77 L515.11,83.31 L515.84,82.85 L516.57,82.39 L517.30,81.94 L518.03,81.48 L518.75,81.03 L519.48,80.57 L520.21,80.12 L520.94,79.67 L521.67,79.22 L522.40,78.77 L523.13,78.32 L523.86,77.88 L524.58,77.43 L525.31,76.99 L526.04,76.54 L526.77,76.10 L527.50,75.66 L528.23,75.22 L528.96,74.79 L529.69,74.35 L530.41,73.91 L531.14,73.48 L531.87,73.04 L532.60,72.61 L533.33,72.18 L534.06,71.75 L534.79,71.32 L535.52,70.90 L536.24,70.47 L536.97,70.04 L537.70,69.62 L538.43,69.20 L539.16,68.77 L539.89,68.35 L540.62,67.93 L541.35,67.52 L542.07,67.10 L542.80,66.68 L543.53,66.27 L544.26,65.85 L544.99,65.44 L545.72,65.03 L546.45,64.62 L547.18,64.21 L547.90,63.80 L548.63,63.39 L549.36,62.98 L550.09,62.58 L550.82,62.17 L551.55,61.77 L552.28,61.37 L553.01,60.97 L553.73,60.57 L554.46,60.17 L555.19,59.77 L555.92,59.37 L556.65,58.98 L557.38,58.58 L558.11,58.19 L558.84,57.80 L559.56,57.41 L560.29,57.02 L561.02,56.63 L561.75,56.24 L562.48,55.85 L563.21,55.46 L563.94,55.08 L564.67,54.69 L565.39,54.31 L566.12,53.93 L566.85,53.55 L567.58,53.17 L568.31,52.79 L569.04,52.41 L569.77,52.03 L570.50,51.65 L571.23,51.28 L571.95,50.91 L572.68,50.53 L573.41,50.16 L574.14,49.79 L574.87,49.42 L575.60,49.05 L576.33,48.68 L577.06,48.31 L577.78,47.95 L578.51,47.58 L579.24,47.21 L579.97,46.85 L580.70,46.49 L581.43,46.13 L582.16,45.77 L582.89,45.41 L583.61,45.05 L584.34,44.69 L585.07,44.33 L585.80,43.98 L586.53,43.62 L587.26,43.27 L587.99,42.91 L588.72,42.56 L589.44,42.21 L590.17,41.86 L590.90,41.51 L591.63,41.16 L592.36,40.81 L593.09,40.46 L593.82,40.12 L594.55,39.77 L595.27,39.43 L596.00,39.08 L596.73,38.74 L597.46,38.40 L598.19,38.06 L598.92,37.72 L599.65,37.38 L600.38,37.04 L601.10,36.70 L601.83,36.37 L602.56,36.03 L603.29,35.69 L604.02,35.36 L604.75,35.03 L605.48,34.69 L606.21,34.36 L606.93,34.03 L607.66,33.70 L608.39,33.37 L609.12,33.05 L609.85,32.72 L610.58,32.39 L611.31,32.07 L612.04,31.74 L612.76,31.42 L613.49,31.09 L614.22,30.77 L614.95,30.45 L615.68,30.13 L616.41,29.81 L617.14,29.49 L617.87,29.17 L618.59,28.85 L619.32,28.53 L620.05,28.22 L620.78,27.90 L621.51,27.59 L622.24,27.27 L622.97,26.96 L623.70,26.65 L624.42,26.34 L625.15,26.02 L625.88,25.71 L626.61,25.40 L627.34,25.10 L628.07,24.79 L628.80,24.48 L629.53,24.17 L630.25,23.87 L630.98,23.56 L631.71,23.26 L632.44,22.95 L633.17,22.65 L633.90,22.35 L634.63,22.05 L635.36,21.75 L636.08,21.45 L636.81,21.15 L637.54,20.85 L638.27,20.55 L639.00,20.25" fill="none" stroke="#c8380e" stroke-width="2.25" stroke-linejoin="round" stroke-linecap="butt"/>
<g transform="translate(394.8 105.5) rotate(-90)"><text x="0" y="0" font-size="12.6" font-style="italic" transform="scale(1.0 1)">Re</text><text class="thin" transform="translate(14.1 1.2)" font-size="16.5">(</text><text class="thin" transform="translate(28.1 1.2)" font-size="16.5">)</text><line x1="19.6" y1="-3.0" x2="27.0" y2="-3.0" stroke="#151515" stroke-width="0.7"/><text class="thin" x="21.2" y="-5.6" font-size="8" font-style="italic">β</text><text class="thin" x="19.9" y="4.6" font-size="8" font-style="italic">k<tspan font-size="5.6" font-style="normal" dy="1.4">0</tspan></text></g>
<g transform="translate(670 105.3) rotate(-90)"><line x1="0" y1="0" x2="32" y2="0" stroke="#151515" stroke-width="1.1"/><text class="thin" transform="translate(16.00 -4.6) scale(1.05 1)" font-size="12.6" text-anchor="middle"><tspan font-style="italic">Re</tspan>(<tspan font-style="italic">β</tspan>)</text><text class="thin" transform="translate(16.00 10.3) scale(1.05 1)" font-size="12.6" text-anchor="middle"><tspan font-style="italic">Im</tspan>(<tspan font-style="italic">β</tspan>)</text></g>
<path d="M49.9,226.8 L49.9,385.3 L263.2,385.3 L263.2,226.8" fill="none" stroke="#151515" stroke-width="1.65" stroke-linejoin="miter" stroke-linecap="square"/>
<line x1="49.90" y1="385.30" x2="53.10" y2="385.30" stroke="#151515" stroke-width="1.7"/>
<line x1="49.90" y1="358.88" x2="53.10" y2="358.88" stroke="#151515" stroke-width="1.7"/>
<line x1="49.90" y1="332.47" x2="53.10" y2="332.47" stroke="#151515" stroke-width="1.7"/>
<line x1="49.90" y1="306.05" x2="53.10" y2="306.05" stroke="#151515" stroke-width="1.7"/>
<line x1="49.90" y1="279.63" x2="53.10" y2="279.63" stroke="#151515" stroke-width="1.7"/>
<line x1="49.90" y1="253.22" x2="53.10" y2="253.22" stroke="#151515" stroke-width="1.7"/>
<line x1="49.90" y1="226.80" x2="53.10" y2="226.80" stroke="#151515" stroke-width="1.7"/>
<line x1="263.20" y1="385.30" x2="260.00" y2="385.30" stroke="#151515" stroke-width="1.7"/>
<line x1="263.20" y1="358.88" x2="260.00" y2="358.88" stroke="#151515" stroke-width="1.7"/>
<line x1="263.20" y1="332.47" x2="260.00" y2="332.47" stroke="#151515" stroke-width="1.7"/>
<line x1="263.20" y1="306.05" x2="260.00" y2="306.05" stroke="#151515" stroke-width="1.7"/>
<line x1="263.20" y1="279.63" x2="260.00" y2="279.63" stroke="#151515" stroke-width="1.7"/>
<line x1="263.20" y1="253.22" x2="260.00" y2="253.22" stroke="#151515" stroke-width="1.7"/>
<line x1="263.20" y1="226.80" x2="260.00" y2="226.80" stroke="#151515" stroke-width="1.7"/>
<line x1="73.60" y1="385.30" x2="73.60" y2="382.10" stroke="#151515" stroke-width="1.7"/>
<line x1="121.00" y1="385.30" x2="121.00" y2="382.10" stroke="#151515" stroke-width="1.7"/>
<line x1="168.40" y1="385.30" x2="168.40" y2="382.10" stroke="#151515" stroke-width="1.7"/>
<line x1="215.80" y1="385.30" x2="215.80" y2="382.10" stroke="#151515" stroke-width="1.7"/>
<line x1="263.20" y1="385.30" x2="263.20" y2="382.10" stroke="#151515" stroke-width="1.7"/>
<text class="tk" transform="translate(46.10 388.50) scale(1.0 1)" font-size="11.3" text-anchor="end" font-weight="normal" font-style="normal" >1.5</text>
<text class="tk" transform="translate(46.10 362.08) scale(1.0 1)" font-size="11.3" text-anchor="end" font-weight="normal" font-style="normal" >2</text>
<text class="tk" transform="translate(46.10 335.67) scale(1.0 1)" font-size="11.3" text-anchor="end" font-weight="normal" font-style="normal" >2.5</text>
<text class="tk" transform="translate(46.10 309.25) scale(1.0 1)" font-size="11.3" text-anchor="end" font-weight="normal" font-style="normal" >3</text>
<text class="tk" transform="translate(46.10 282.83) scale(1.0 1)" font-size="11.3" text-anchor="end" font-weight="normal" font-style="normal" >3.5</text>
<text class="tk" transform="translate(46.10 256.42) scale(1.0 1)" font-size="11.3" text-anchor="end" font-weight="normal" font-style="normal" >4</text>
<text class="tk" transform="translate(46.10 230.00) scale(1.0 1)" font-size="11.3" text-anchor="end" font-weight="normal" font-style="normal" >4.5</text>
<text class="tk" transform="translate(266.90 362.08) scale(1.0 1)" font-size="11.3" text-anchor="start" font-weight="normal" font-style="normal" >40</text>
<text class="tk" transform="translate(266.90 335.67) scale(1.0 1)" font-size="11.3" text-anchor="start" font-weight="normal" font-style="normal" >50</text>
<text class="tk" transform="translate(266.90 309.25) scale(1.0 1)" font-size="11.3" text-anchor="start" font-weight="normal" font-style="normal" >60</text>
<text class="tk" transform="translate(266.90 282.83) scale(1.0 1)" font-size="11.3" text-anchor="start" font-weight="normal" font-style="normal" >70</text>
<text class="tk" transform="translate(266.90 256.42) scale(1.0 1)" font-size="11.3" text-anchor="start" font-weight="normal" font-style="normal" >80</text>
<text class="tk" transform="translate(266.90 230.00) scale(1.0 1)" font-size="11.3" text-anchor="start" font-weight="normal" font-style="normal" >90</text>
<text class="tk" transform="translate(266.90 388.60) scale(1.0 1)" font-size="11.3" text-anchor="start" font-weight="normal" font-style="normal" >30</text>
<text class="tk" transform="translate(73.60 397.90) scale(1.0 1)" font-size="11.3" text-anchor="middle" font-weight="normal" font-style="normal" >2</text>
<text class="tk" transform="translate(121.00 397.90) scale(1.0 1)" font-size="11.3" text-anchor="middle" font-weight="normal" font-style="normal" >4</text>
<text class="tk" transform="translate(168.40 397.90) scale(1.0 1)" font-size="11.3" text-anchor="middle" font-weight="normal" font-style="normal" >6</text>
<text class="tk" transform="translate(215.80 397.90) scale(1.0 1)" font-size="11.3" text-anchor="middle" font-weight="normal" font-style="normal" >8</text>
<text class="tk" transform="translate(263.20 397.90) scale(1.0 1)" font-size="11.3" text-anchor="middle" font-weight="normal" font-style="normal" >10</text>
<text transform="translate(109.33 412.30) scale(1.0787 1)" font-size="12.6" font-weight="normal" >Frequency (THz)</text>
<text transform="translate(-0.11 233.60) scale(1.1400 1)" font-size="20.3" font-weight="bold" class="pl">c)</text>
<path d="M49.90,359.64 L50.61,359.23 L51.33,358.82 L52.04,358.41 L52.75,358.00 L53.47,357.59 L54.18,357.18 L54.89,356.78 L55.61,356.37 L56.32,355.97 L57.03,355.57 L57.75,355.17 L58.46,354.77 L59.17,354.37 L59.89,353.98 L60.60,353.58 L61.31,353.19 L62.03,352.79 L62.74,352.40 L63.45,352.01 L64.17,351.62 L64.88,351.24 L65.59,350.85 L66.31,350.46 L67.02,350.08 L67.73,349.69 L68.45,349.31 L69.16,348.93 L69.87,348.55 L70.59,348.17 L71.30,347.79 L72.01,347.42 L72.73,347.04 L73.44,346.67 L74.15,346.29 L74.87,345.92 L75.58,345.55 L76.29,345.18 L77.01,344.81 L77.72,344.44 L78.44,344.07 L79.15,343.70 L79.86,343.34 L80.58,342.97 L81.29,342.61 L82.00,342.25 L82.72,341.88 L83.43,341.52 L84.14,341.16 L84.86,340.80 L85.57,340.44 L86.28,340.09 L87.00,339.73 L87.71,339.37 L88.42,339.02 L89.14,338.66 L89.85,338.31 L90.56,337.96 L91.28,337.60 L91.99,337.25 L92.70,336.90 L93.42,336.55 L94.13,336.20 L94.84,335.85 L95.56,335.51 L96.27,335.16 L96.98,334.81 L97.70,334.47 L98.41,334.12 L99.12,333.78 L99.84,333.44 L100.55,333.09 L101.26,332.75 L101.98,332.41 L102.69,332.07 L103.40,331.73 L104.12,331.39 L104.83,331.05 L105.54,330.71 L106.26,330.37 L106.97,330.04 L107.68,329.70 L108.40,329.36 L109.11,329.03 L109.82,328.69 L110.54,328.36 L111.25,328.02 L111.96,327.69 L112.68,327.36 L113.39,327.02 L114.10,326.69 L114.82,326.36 L115.53,326.03 L116.24,325.70 L116.96,325.37 L117.67,325.04 L118.38,324.71 L119.10,324.38 L119.81,324.05 L120.52,323.72 L121.24,323.39 L121.95,323.06 L122.66,322.74 L123.38,322.41 L124.09,322.08 L124.80,321.76 L125.52,321.43 L126.23,321.10 L126.94,320.78 L127.66,320.45 L128.37,320.13 L129.08,319.80 L129.80,319.48 L130.51,319.15 L131.23,318.83 L131.94,318.50 L132.65,318.18 L133.37,317.86 L134.08,317.53 L134.79,317.21 L135.51,316.89 L136.22,316.56 L136.93,316.24 L137.65,315.92 L138.36,315.59 L139.07,315.27 L139.79,314.95 L140.50,314.63 L141.21,314.30 L141.93,313.98 L142.64,313.66 L143.35,313.34 L144.07,313.01 L144.78,312.69 L145.49,312.37 L146.21,312.05 L146.92,311.72 L147.63,311.40 L148.35,311.08 L149.06,310.76 L149.77,310.44 L150.49,310.11 L151.20,309.79 L151.91,309.47 L152.63,309.14 L153.34,308.82 L154.05,308.50 L154.77,308.18 L155.48,307.85 L156.19,307.53 L156.91,307.21 L157.62,306.88 L158.33,306.56 L159.05,306.23 L159.76,305.91 L160.47,305.59 L161.19,305.26 L161.90,304.94 L162.61,304.61 L163.33,304.29 L164.04,303.96 L164.75,303.63 L165.47,303.31 L166.18,302.98 L166.89,302.65 L167.61,302.33 L168.32,302.00 L169.03,301.67 L169.75,301.34 L170.46,301.02 L171.17,300.69 L171.89,300.36 L172.60,300.03 L173.31,299.70 L174.03,299.37 L174.74,299.04 L175.45,298.71 L176.17,298.37 L176.88,298.04 L177.59,297.71 L178.31,297.38 L179.02,297.04 L179.73,296.71 L180.45,296.38 L181.16,296.04 L181.87,295.70 L182.59,295.37 L183.30,295.03 L184.02,294.70 L184.73,294.36 L185.44,294.02 L186.16,293.68 L186.87,293.34 L187.58,293.00 L188.30,292.66 L189.01,292.32 L189.72,291.98 L190.44,291.64 L191.15,291.29 L191.86,290.95 L192.58,290.60 L193.29,290.26 L194.00,289.91 L194.72,289.57 L195.43,289.22 L196.14,288.87 L196.86,288.52 L197.57,288.17 L198.28,287.82 L199.00,287.47 L199.71,287.12 L200.42,286.77 L201.14,286.42 L201.85,286.06 L202.56,285.71 L203.28,285.35 L203.99,284.99 L204.70,284.64 L205.42,284.28 L206.13,283.92 L206.84,283.56 L207.56,283.20 L208.27,282.84 L208.98,282.47 L209.70,282.11 L210.41,281.75 L211.12,281.38 L211.84,281.01 L212.55,280.65 L213.26,280.28 L213.98,279.91 L214.69,279.54 L215.40,279.17 L216.12,278.80 L216.83,278.42 L217.54,278.05 L218.26,277.67 L218.97,277.30 L219.68,276.92 L220.40,276.54 L221.11,276.16 L221.82,275.78 L222.54,275.40 L223.25,275.02 L223.96,274.63 L224.68,274.25 L225.39,273.86 L226.10,273.47 L226.82,273.08 L227.53,272.69 L228.24,272.30 L228.96,271.91 L229.67,271.52 L230.38,271.12 L231.10,270.73 L231.81,270.33 L232.52,269.93 L233.24,269.53 L233.95,269.13 L234.66,268.73 L235.38,268.33 L236.09,267.92 L236.81,267.52 L237.52,267.11 L238.23,266.70 L238.95,266.29 L239.66,265.88 L240.37,265.47 L241.09,265.05 L241.80,264.64 L242.51,264.22 L243.23,263.80 L243.94,263.38 L244.65,262.96 L245.37,262.54 L246.08,262.12 L246.79,261.69 L247.51,261.26 L248.22,260.84 L248.93,260.41 L249.65,259.97 L250.36,259.54 L251.07,259.11 L251.79,258.67 L252.50,258.23 L253.21,257.80 L253.93,257.36 L254.64,256.91 L255.35,256.47 L256.07,256.02 L256.78,255.58 L257.49,255.13 L258.21,254.68 L258.92,254.23 L259.63,253.78 L260.35,253.32 L261.06,252.86 L261.77,252.41 L262.49,251.95 L263.20,251.48" fill="none" stroke="#0558aa" stroke-width="2.25" stroke-linejoin="round" stroke-linecap="butt"/>
<path d="M49.90,379.24 L50.61,377.95 L51.33,376.68 L52.04,375.41 L52.75,374.16 L53.47,372.91 L54.18,371.68 L54.89,370.45 L55.61,369.24 L56.32,368.03 L57.03,366.84 L57.75,365.65 L58.46,364.48 L59.17,363.31 L59.89,362.16 L60.60,361.01 L61.31,359.87 L62.03,358.74 L62.74,357.63 L63.45,356.52 L64.17,355.42 L64.88,354.33 L65.59,353.24 L66.31,352.17 L67.02,351.11 L67.73,350.05 L68.45,349.00 L69.16,347.97 L69.87,346.94 L70.59,345.92 L71.30,344.90 L72.01,343.90 L72.73,342.90 L73.44,341.91 L74.15,340.93 L74.87,339.96 L75.58,339.00 L76.29,338.04 L77.01,337.09 L77.72,336.15 L78.44,335.22 L79.15,334.29 L79.86,333.38 L80.58,332.46 L81.29,331.56 L82.00,330.67 L82.72,329.78 L83.43,328.89 L84.14,328.02 L84.86,327.15 L85.57,326.29 L86.28,325.44 L87.00,324.59 L87.71,323.75 L88.42,322.91 L89.14,322.08 L89.85,321.26 L90.56,320.45 L91.28,319.64 L91.99,318.84 L92.70,318.04 L93.42,317.25 L94.13,316.47 L94.84,315.69 L95.56,314.91 L96.27,314.15 L96.98,313.39 L97.70,312.63 L98.41,311.88 L99.12,311.14 L99.84,310.40 L100.55,309.67 L101.26,308.94 L101.98,308.22 L102.69,307.51 L103.40,306.79 L104.12,306.09 L104.83,305.39 L105.54,304.69 L106.26,304.00 L106.97,303.32 L107.68,302.64 L108.40,301.96 L109.11,301.29 L109.82,300.62 L110.54,299.96 L111.25,299.30 L111.96,298.65 L112.68,298.00 L113.39,297.36 L114.10,296.72 L114.82,296.08 L115.53,295.45 L116.24,294.82 L116.96,294.20 L117.67,293.58 L118.38,292.97 L119.10,292.36 L119.81,291.75 L120.52,291.14 L121.24,290.54 L121.95,289.95 L122.66,289.35 L123.38,288.77 L124.09,288.18 L124.80,287.60 L125.52,287.02 L126.23,286.44 L126.94,285.87 L127.66,285.30 L128.37,284.73 L129.08,284.17 L129.80,283.61 L130.51,283.05 L131.23,282.49 L131.94,281.94 L132.65,281.39 L133.37,280.85 L134.08,280.30 L134.79,279.76 L135.51,279.22 L136.22,278.69 L136.93,278.16 L137.65,277.63 L138.36,277.10 L139.07,276.58 L139.79,276.06 L140.50,275.54 L141.21,275.03 L141.93,274.52 L142.64,274.01 L143.35,273.51 L144.07,273.01 L144.78,272.51 L145.49,272.02 L146.21,271.53 L146.92,271.04 L147.63,270.56 L148.35,270.07 L149.06,269.60 L149.77,269.12 L150.49,268.65 L151.20,268.18 L151.91,267.72 L152.63,267.26 L153.34,266.80 L154.05,266.35 L154.77,265.90 L155.48,265.45 L156.19,265.01 L156.91,264.57 L157.62,264.14 L158.33,263.70 L159.05,263.28 L159.76,262.85 L160.47,262.43 L161.19,262.01 L161.90,261.60 L162.61,261.19 L163.33,260.78 L164.04,260.38 L164.75,259.98 L165.47,259.59 L166.18,259.20 L166.89,258.81 L167.61,258.43 L168.32,258.05 L169.03,257.67 L169.75,257.30 L170.46,256.93 L171.17,256.57 L171.89,256.21 L172.60,255.86 L173.31,255.51 L174.03,255.16 L174.74,254.82 L175.45,254.48 L176.17,254.14 L176.88,253.81 L177.59,253.49 L178.31,253.17 L179.02,252.85 L179.73,252.54 L180.45,252.23 L181.16,251.92 L181.87,251.62 L182.59,251.32 L183.30,251.03 L184.02,250.75 L184.73,250.46 L185.44,250.18 L186.16,249.91 L186.87,249.64 L187.58,249.38 L188.30,249.11 L189.01,248.86 L189.72,248.61 L190.44,248.36 L191.15,248.12 L191.86,247.88 L192.58,247.64 L193.29,247.42 L194.00,247.19 L194.72,246.97 L195.43,246.76 L196.14,246.54 L196.86,246.34 L197.57,246.14 L198.28,245.94 L199.00,245.75 L199.71,245.56 L200.42,245.38 L201.14,245.20 L201.85,245.03 L202.56,244.86 L203.28,244.69 L203.99,244.54 L204.70,244.38 L205.42,244.23 L206.13,244.09 L206.84,243.95 L207.56,243.81 L208.27,243.68 L208.98,243.56 L209.70,243.44 L210.41,243.32 L211.12,243.21 L211.84,243.10 L212.55,243.00 L213.26,242.91 L213.98,242.82 L214.69,242.73 L215.40,242.65 L216.12,242.57 L216.83,242.50 L217.54,242.44 L218.26,242.38 L218.97,242.32 L219.68,242.27 L220.40,242.22 L221.11,242.18 L221.82,242.15 L222.54,242.12 L223.25,242.09 L223.96,242.07 L224.68,242.06 L225.39,242.05 L226.10,242.04 L226.82,242.04 L227.53,242.05 L228.24,242.06 L228.96,242.08 L229.67,242.10 L230.38,242.12 L231.10,242.16 L231.81,242.19 L232.52,242.24 L233.24,242.28 L233.95,242.34 L234.66,242.40 L235.38,242.46 L236.09,242.53 L236.81,242.60 L237.52,242.68 L238.23,242.77 L238.95,242.86 L239.66,242.96 L240.37,243.06 L241.09,243.17 L241.80,243.28 L242.51,243.40 L243.23,243.52 L243.94,243.65 L244.65,243.79 L245.37,243.93 L246.08,244.07 L246.79,244.22 L247.51,244.38 L248.22,244.54 L248.93,244.71 L249.65,244.89 L250.36,245.07 L251.07,245.25 L251.79,245.44 L252.50,245.64 L253.21,245.84 L253.93,246.05 L254.64,246.26 L255.35,246.48 L256.07,246.71 L256.78,246.94 L257.49,247.18 L258.21,247.42 L258.92,247.67 L259.63,247.92 L260.35,248.18 L261.06,248.45 L261.77,248.72 L262.49,249.00 L263.20,249.28" fill="none" stroke="#c8380e" stroke-width="2.25" stroke-linejoin="round" stroke-linecap="butt"/>
<g transform="translate(23.8 322.0) rotate(-90)"><text x="0" y="0" font-size="12.6" font-style="italic" transform="scale(1.0 1)">Re</text><text class="thin" transform="translate(14.1 1.2)" font-size="16.5">(</text><text class="thin" transform="translate(28.1 1.2)" font-size="16.5">)</text><line x1="19.6" y1="-3.0" x2="27.0" y2="-3.0" stroke="#151515" stroke-width="0.7"/><text class="thin" x="21.2" y="-5.6" font-size="8" font-style="italic">β</text><text class="thin" x="19.9" y="4.6" font-size="8" font-style="italic">k<tspan font-size="5.6" font-style="normal" dy="1.4">0</tspan></text></g>
<g transform="translate(293.6 321.4) rotate(-90)"><line x1="0" y1="0" x2="31" y2="0" stroke="#151515" stroke-width="1.1"/><text class="thin" transform="translate(15.50 -4.6) scale(1.05 1)" font-size="12.6" text-anchor="middle"><tspan font-style="italic">Re</tspan>(<tspan font-style="italic">β</tspan>)</text><text class="thin" transform="translate(15.50 10.3) scale(1.05 1)" font-size="12.6" text-anchor="middle"><tspan font-style="italic">Im</tspan>(<tspan font-style="italic">β</tspan>)</text></g>
<path d="M420.2,233.9 L420.2,395.6 L628.0,395.6 L628.0,233.9" fill="none" stroke="#151515" stroke-width="1.65" stroke-linejoin="miter" stroke-linecap="square"/>
<line x1="420.20" y1="395.60" x2="423.40" y2="395.60" stroke="#151515" stroke-width="1.7"/>
<line x1="420.20" y1="368.65" x2="423.40" y2="368.65" stroke="#151515" stroke-width="1.7"/>
<line x1="420.20" y1="341.70" x2="423.40" y2="341.70" stroke="#151515" stroke-width="1.7"/>
<line x1="420.20" y1="314.75" x2="423.40" y2="314.75" stroke="#151515" stroke-width="1.7"/>
<line x1="420.20" y1="287.80" x2="423.40" y2="287.80" stroke="#151515" stroke-width="1.7"/>
<line x1="420.20" y1="260.85" x2="423.40" y2="260.85" stroke="#151515" stroke-width="1.7"/>
<line x1="420.20" y1="233.90" x2="423.40" y2="233.90" stroke="#151515" stroke-width="1.7"/>
<line x1="628.00" y1="395.60" x2="624.80" y2="395.60" stroke="#151515" stroke-width="1.7"/>
<line x1="628.00" y1="363.26" x2="624.80" y2="363.26" stroke="#151515" stroke-width="1.7"/>
<line x1="628.00" y1="330.92" x2="624.80" y2="330.92" stroke="#151515" stroke-width="1.7"/>
<line x1="628.00" y1="298.58" x2="624.80" y2="298.58" stroke="#151515" stroke-width="1.7"/>
<line x1="628.00" y1="266.24" x2="624.80" y2="266.24" stroke="#151515" stroke-width="1.7"/>
<line x1="628.00" y1="233.90" x2="624.80" y2="233.90" stroke="#151515" stroke-width="1.7"/>
<line x1="449.89" y1="395.60" x2="449.89" y2="392.40" stroke="#151515" stroke-width="1.7"/>
<line x1="479.57" y1="395.60" x2="479.57" y2="392.40" stroke="#151515" stroke-width="1.7"/>
<line x1="509.26" y1="395.60" x2="509.26" y2="392.40" stroke="#151515" stroke-width="1.7"/>
<line x1="538.94" y1="395.60" x2="538.94" y2="392.40" stroke="#151515" stroke-width="1.7"/>
<line x1="568.63" y1="395.60" x2="568.63" y2="392.40" stroke="#151515" stroke-width="1.7"/>
<line x1="598.31" y1="395.60" x2="598.31" y2="392.40" stroke="#151515" stroke-width="1.7"/>
<line x1="628.00" y1="395.60" x2="628.00" y2="392.40" stroke="#151515" stroke-width="1.7"/>
<text class="tk" transform="translate(416.40 398.80) scale(1.0 1)" font-size="11.3" text-anchor="end" font-weight="normal" font-style="normal" >1.5</text>
<text class="tk" transform="translate(416.40 371.85) scale(1.0 1)" font-size="11.3" text-anchor="end" font-weight="normal" font-style="normal" >2</text>
<text class="tk" transform="translate(416.40 344.90) scale(1.0 1)" font-size="11.3" text-anchor="end" font-weight="normal" font-style="normal" >2.5</text>
<text class="tk" transform="translate(416.40 317.95) scale(1.0 1)" font-size="11.3" text-anchor="end" font-weight="normal" font-style="normal" >3</text>
<text class="tk" transform="translate(416.40 291.00) scale(1.0 1)" font-size="11.3" text-anchor="end" font-weight="normal" font-style="normal" >3.5</text>
<text class="tk" transform="translate(416.40 264.05) scale(1.0 1)" font-size="11.3" text-anchor="end" font-weight="normal" font-style="normal" >4</text>
<text class="tk" transform="translate(416.40 237.10) scale(1.0 1)" font-size="11.3" text-anchor="end" font-weight="normal" font-style="normal" >4.5</text>
<text class="tk" transform="translate(631.70 366.46) scale(1.0 1)" font-size="11.3" text-anchor="start" font-weight="normal" font-style="normal" >40</text>
<text class="tk" transform="translate(631.70 334.12) scale(1.0 1)" font-size="11.3" text-anchor="start" font-weight="normal" font-style="normal" >60</text>
<text class="tk" transform="translate(631.70 301.78) scale(1.0 1)" font-size="11.3" text-anchor="start" font-weight="normal" font-style="normal" >80</text>
<text class="tk" transform="translate(631.70 269.44) scale(1.0 1)" font-size="11.3" text-anchor="start" font-weight="normal" font-style="normal" >100</text>
<text class="tk" transform="translate(631.70 237.10) scale(1.0 1)" font-size="11.3" text-anchor="start" font-weight="normal" font-style="normal" >120</text>
<text class="tk" transform="translate(631.70 398.80) scale(1.0 1)" font-size="11.3" text-anchor="start" font-weight="normal" font-style="normal" >20</text>
<text class="tk" transform="translate(420.20 408.30) scale(1.0 1)" font-size="11.3" text-anchor="middle" font-weight="normal" font-style="normal" >1</text>
<text class="tk" transform="translate(449.89 408.30) scale(1.0 1)" font-size="11.3" text-anchor="middle" font-weight="normal" font-style="normal" >3</text>
<text class="tk" transform="translate(479.57 408.30) scale(1.0 1)" font-size="11.3" text-anchor="middle" font-weight="normal" font-style="normal" >5</text>
<text class="tk" transform="translate(509.26 408.30) scale(1.0 1)" font-size="11.3" text-anchor="middle" font-weight="normal" font-style="normal" >7</text>
<text class="tk" transform="translate(538.94 408.30) scale(1.0 1)" font-size="11.3" text-anchor="middle" font-weight="normal" font-style="normal" >9</text>
<text class="tk" transform="translate(568.63 408.30) scale(1.0 1)" font-size="11.3" text-anchor="middle" font-weight="normal" font-style="normal" >11</text>
<text class="tk" transform="translate(598.31 408.30) scale(1.0 1)" font-size="11.3" text-anchor="middle" font-weight="normal" font-style="normal" >13</text>
<text class="tk" transform="translate(628.00 408.30) scale(1.0 1)" font-size="11.3" text-anchor="middle" font-weight="normal" font-style="normal" >15</text>
<text transform="translate(477.33 422.30) scale(1.0787 1)" font-size="12.6" font-weight="normal" >Frequency (THz)</text>
<text transform="translate(367.09 240.80) scale(1.1198 1)" font-size="20.3" font-weight="bold" class="pl">d)</text>
<path d="M420.20,375.41 L420.89,374.90 L421.59,374.39 L422.28,373.89 L422.98,373.38 L423.67,372.88 L424.37,372.39 L425.06,371.89 L425.76,371.40 L426.45,370.91 L427.15,370.43 L427.84,369.95 L428.54,369.47 L429.23,368.99 L429.93,368.52 L430.62,368.05 L431.32,367.59 L432.01,367.12 L432.71,366.66 L433.40,366.20 L434.10,365.75 L434.79,365.29 L435.49,364.84 L436.18,364.39 L436.88,363.95 L437.57,363.51 L438.27,363.07 L438.96,362.63 L439.66,362.19 L440.35,361.76 L441.05,361.33 L441.74,360.90 L442.44,360.48 L443.13,360.05 L443.83,359.63 L444.52,359.21 L445.22,358.80 L445.91,358.38 L446.61,357.97 L447.30,357.56 L448.00,357.15 L448.69,356.75 L449.39,356.34 L450.08,355.94 L450.78,355.54 L451.47,355.15 L452.17,354.75 L452.86,354.36 L453.56,353.97 L454.25,353.58 L454.95,353.19 L455.64,352.80 L456.34,352.42 L457.03,352.04 L457.73,351.66 L458.42,351.28 L459.12,350.90 L459.81,350.52 L460.51,350.15 L461.20,349.78 L461.90,349.40 L462.59,349.04 L463.29,348.67 L463.98,348.30 L464.68,347.94 L465.37,347.57 L466.07,347.21 L466.76,346.85 L467.46,346.49 L468.15,346.13 L468.85,345.77 L469.54,345.42 L470.24,345.06 L470.93,344.71 L471.63,344.36 L472.32,344.00 L473.02,343.65 L473.71,343.31 L474.41,342.96 L475.10,342.61 L475.80,342.26 L476.49,341.92 L477.19,341.57 L477.88,341.23 L478.58,340.89 L479.27,340.55 L479.97,340.21 L480.66,339.86 L481.36,339.53 L482.05,339.19 L482.75,338.85 L483.44,338.51 L484.14,338.17 L484.83,337.84 L485.53,337.50 L486.22,337.17 L486.92,336.83 L487.61,336.50 L488.31,336.16 L489.00,335.83 L489.70,335.50 L490.39,335.16 L491.09,334.83 L491.78,334.50 L492.48,334.17 L493.17,333.84 L493.87,333.50 L494.56,333.17 L495.26,332.84 L495.95,332.51 L496.65,332.18 L497.34,331.85 L498.04,331.52 L498.73,331.19 L499.43,330.86 L500.12,330.53 L500.82,330.20 L501.51,329.86 L502.21,329.53 L502.90,329.20 L503.60,328.87 L504.29,328.54 L504.99,328.21 L505.68,327.87 L506.38,327.54 L507.07,327.21 L507.77,326.87 L508.46,326.54 L509.16,326.21 L509.85,325.87 L510.55,325.54 L511.24,325.20 L511.94,324.86 L512.63,324.53 L513.33,324.19 L514.02,323.85 L514.72,323.51 L515.41,323.17 L516.11,322.83 L516.80,322.49 L517.50,322.15 L518.19,321.81 L518.89,321.46 L519.58,321.12 L520.28,320.77 L520.97,320.43 L521.67,320.08 L522.36,319.73 L523.06,319.38 L523.75,319.03 L524.45,318.68 L525.14,318.33 L525.84,317.97 L526.53,317.62 L527.23,317.26 L527.92,316.91 L528.62,316.55 L529.31,316.19 L530.01,315.83 L530.70,315.46 L531.40,315.10 L532.09,314.73 L532.79,314.37 L533.48,314.00 L534.18,313.63 L534.87,313.26 L535.57,312.89 L536.26,312.51 L536.96,312.14 L537.65,311.76 L538.35,311.38 L539.04,311.00 L539.74,310.61 L540.43,310.23 L541.13,309.84 L541.82,309.46 L542.52,309.07 L543.21,308.67 L543.91,308.28 L544.60,307.89 L545.30,307.49 L545.99,307.09 L546.69,306.69 L547.38,306.28 L548.08,305.88 L548.77,305.47 L549.47,305.06 L550.16,304.65 L550.86,304.23 L551.55,303.82 L552.25,303.40 L552.94,302.98 L553.64,302.55 L554.33,302.13 L555.03,301.70 L555.72,301.27 L556.42,300.84 L557.11,300.40 L557.81,299.96 L558.50,299.52 L559.20,299.08 L559.89,298.63 L560.59,298.19 L561.28,297.73 L561.98,297.28 L562.67,296.82 L563.37,296.37 L564.06,295.90 L564.76,295.44 L565.45,294.97 L566.15,294.50 L566.84,294.03 L567.54,293.55 L568.23,293.07 L568.93,292.59 L569.62,292.11 L570.32,291.62 L571.01,291.13 L571.71,290.64 L572.40,290.14 L573.10,289.64 L573.79,289.14 L574.49,288.63 L575.18,288.12 L575.88,287.61 L576.57,287.09 L577.27,286.57 L577.96,286.05 L578.66,285.52 L579.35,284.99 L580.05,284.46 L580.74,283.92 L581.44,283.38 L582.13,282.84 L582.83,282.29 L583.52,281.74 L584.22,281.19 L584.91,280.63 L585.61,280.07 L586.30,279.50 L587.00,278.93 L587.69,278.36 L588.39,277.79 L589.08,277.21 L589.78,276.62 L590.47,276.03 L591.17,275.44 L591.86,274.85 L592.56,274.25 L593.25,273.64 L593.95,273.03 L594.64,272.42 L595.34,271.81 L596.03,271.19 L596.73,270.56 L597.42,269.94 L598.12,269.30 L598.81,268.67 L599.51,268.03 L600.20,267.38 L600.90,266.73 L601.59,266.08 L602.29,265.42 L602.98,264.76 L603.68,264.09 L604.37,263.42 L605.07,262.74 L605.76,262.06 L606.46,261.38 L607.15,260.69 L607.85,259.99 L608.54,259.29 L609.24,258.59 L609.93,257.88 L610.63,257.17 L611.32,256.45 L612.02,255.73 L612.71,255.00 L613.41,254.27 L614.10,253.54 L614.80,252.79 L615.49,252.05 L616.19,251.30 L616.88,250.54 L617.58,249.78 L618.27,249.01 L618.97,248.24 L619.66,247.46 L620.36,246.68 L621.05,245.89 L621.75,245.10 L622.44,244.30 L623.14,243.50 L623.83,242.69 L624.53,241.88 L625.22,241.06 L625.92,240.24 L626.61,239.41 L627.31,238.57 L628.00,237.73" fill="none" stroke="#0558aa" stroke-width="2.25" stroke-linejoin="round" stroke-linecap="butt"/>
<path d="M420.20,365.20 L420.89,363.79 L421.59,362.34 L422.28,360.87 L422.98,359.36 L423.67,357.84 L424.37,356.30 L425.06,354.75 L425.76,353.20 L426.45,351.64 L427.15,350.08 L427.84,348.54 L428.54,347.01 L429.23,345.49 L429.93,344.00 L430.62,342.53 L431.32,341.10 L432.01,339.69 L432.71,338.31 L433.40,336.96 L434.10,335.63 L434.79,334.33 L435.49,333.05 L436.18,331.80 L436.88,330.57 L437.57,329.37 L438.27,328.18 L438.96,327.02 L439.66,325.87 L440.35,324.75 L441.05,323.64 L441.74,322.56 L442.44,321.48 L443.13,320.43 L443.83,319.39 L444.52,318.37 L445.22,317.36 L445.91,316.36 L446.61,315.37 L447.30,314.40 L448.00,313.44 L448.69,312.48 L449.39,311.54 L450.08,310.61 L450.78,309.68 L451.47,308.76 L452.17,307.85 L452.86,306.94 L453.56,306.05 L454.25,305.16 L454.95,304.28 L455.64,303.41 L456.34,302.54 L457.03,301.68 L457.73,300.83 L458.42,299.99 L459.12,299.15 L459.81,298.32 L460.51,297.50 L461.20,296.69 L461.90,295.88 L462.59,295.08 L463.29,294.29 L463.98,293.50 L464.68,292.73 L465.37,291.96 L466.07,291.19 L466.76,290.44 L467.46,289.69 L468.15,288.94 L468.85,288.21 L469.54,287.48 L470.24,286.76 L470.93,286.05 L471.63,285.34 L472.32,284.64 L473.02,283.94 L473.71,283.26 L474.41,282.58 L475.10,281.90 L475.80,281.24 L476.49,280.58 L477.19,279.92 L477.88,279.27 L478.58,278.63 L479.27,278.00 L479.97,277.37 L480.66,276.75 L481.36,276.14 L482.05,275.53 L482.75,274.93 L483.44,274.33 L484.14,273.75 L484.83,273.16 L485.53,272.59 L486.22,272.02 L486.92,271.45 L487.61,270.90 L488.31,270.34 L489.00,269.80 L489.70,269.26 L490.39,268.73 L491.09,268.20 L491.78,267.68 L492.48,267.17 L493.17,266.66 L493.87,266.16 L494.56,265.66 L495.26,265.17 L495.95,264.69 L496.65,264.21 L497.34,263.74 L498.04,263.27 L498.73,262.82 L499.43,262.36 L500.12,261.92 L500.82,261.48 L501.51,261.04 L502.21,260.62 L502.90,260.20 L503.60,259.78 L504.29,259.38 L504.99,258.97 L505.68,258.58 L506.38,258.19 L507.07,257.81 L507.77,257.43 L508.46,257.06 L509.16,256.70 L509.85,256.34 L510.55,255.99 L511.24,255.65 L511.94,255.31 L512.63,254.98 L513.33,254.66 L514.02,254.34 L514.72,254.03 L515.41,253.72 L516.11,253.42 L516.80,253.13 L517.50,252.85 L518.19,252.57 L518.89,252.30 L519.58,252.03 L520.28,251.77 L520.97,251.52 L521.67,251.28 L522.36,251.04 L523.06,250.81 L523.75,250.58 L524.45,250.36 L525.14,250.15 L525.84,249.94 L526.53,249.74 L527.23,249.55 L527.92,249.37 L528.62,249.19 L529.31,249.02 L530.01,248.85 L530.70,248.69 L531.40,248.54 L532.09,248.40 L532.79,248.26 L533.48,248.13 L534.18,248.01 L534.87,247.89 L535.57,247.78 L536.26,247.67 L536.96,247.58 L537.65,247.49 L538.35,247.41 L539.04,247.33 L539.74,247.26 L540.43,247.20 L541.13,247.14 L541.82,247.09 L542.52,247.05 L543.21,247.02 L543.91,246.99 L544.60,246.97 L545.30,246.96 L545.99,246.95 L546.69,246.95 L547.38,246.96 L548.08,246.98 L548.77,247.00 L549.47,247.03 L550.16,247.06 L550.86,247.11 L551.55,247.16 L552.25,247.21 L552.94,247.28 L553.64,247.35 L554.33,247.43 L555.03,247.52 L555.72,247.61 L556.42,247.71 L557.11,247.82 L557.81,247.93 L558.50,248.05 L559.20,248.18 L559.89,248.32 L560.59,248.46 L561.28,248.61 L561.98,248.77 L562.67,248.94 L563.37,249.11 L564.06,249.29 L564.76,249.48 L565.45,249.67 L566.15,249.88 L566.84,250.09 L567.54,250.30 L568.23,250.53 L568.93,250.76 L569.62,251.00 L570.32,251.24 L571.01,251.50 L571.71,251.76 L572.40,252.03 L573.10,252.30 L573.79,252.58 L574.49,252.87 L575.18,253.17 L575.88,253.47 L576.57,253.78 L577.27,254.10 L577.96,254.43 L578.66,254.76 L579.35,255.09 L580.05,255.44 L580.74,255.79 L581.44,256.15 L582.13,256.51 L582.83,256.89 L583.52,257.26 L584.22,257.65 L584.91,258.04 L585.61,258.44 L586.30,258.84 L587.00,259.25 L587.69,259.67 L588.39,260.09 L589.08,260.52 L589.78,260.96 L590.47,261.40 L591.17,261.85 L591.86,262.31 L592.56,262.77 L593.25,263.24 L593.95,263.71 L594.64,264.19 L595.34,264.68 L596.03,265.17 L596.73,265.67 L597.42,266.17 L598.12,266.68 L598.81,267.20 L599.51,267.72 L600.20,268.25 L600.90,268.78 L601.59,269.32 L602.29,269.86 L602.98,270.42 L603.68,270.97 L604.37,271.53 L605.07,272.10 L605.76,272.67 L606.46,273.25 L607.15,273.84 L607.85,274.43 L608.54,275.02 L609.24,275.62 L609.93,276.23 L610.63,276.84 L611.32,277.45 L612.02,278.08 L612.71,278.70 L613.41,279.34 L614.10,279.97 L614.80,280.62 L615.49,281.26 L616.19,281.92 L616.88,282.57 L617.58,283.24 L618.27,283.90 L618.97,284.58 L619.66,285.25 L620.36,285.93 L621.05,286.62 L621.75,287.31 L622.44,288.01 L623.14,288.71 L623.83,289.42 L624.53,290.13 L625.22,290.84 L625.92,291.56 L626.61,292.29 L627.31,293.02 L628.00,293.75" fill="none" stroke="#c8380e" stroke-width="2.25" stroke-linejoin="round" stroke-linecap="butt"/>
<g transform="translate(394.1 330.5) rotate(-90)"><text x="0" y="0" font-size="12.6" font-style="italic" transform="scale(1.0 1)">Re</text><text class="thin" transform="translate(14.1 1.2)" font-size="16.5">(</text><text class="thin" transform="translate(28.1 1.2)" font-size="16.5">)</text><line x1="19.6" y1="-3.0" x2="27.0" y2="-3.0" stroke="#151515" stroke-width="0.7"/><text class="thin" x="21.2" y="-5.6" font-size="8" font-style="italic">β</text><text class="thin" x="19.9" y="4.6" font-size="8" font-style="italic">k<tspan font-size="5.6" font-style="normal" dy="1.4">0</tspan></text></g>
<g transform="translate(664.4 330.0) rotate(-90)"><line x1="0" y1="0" x2="31" y2="0" stroke="#151515" stroke-width="1.1"/><text class="thin" transform="translate(15.50 -4.6) scale(1.05 1)" font-size="12.6" text-anchor="middle"><tspan font-style="italic">Re</tspan>(<tspan font-style="italic">β</tspan>)</text><text class="thin" transform="translate(15.50 10.3) scale(1.05 1)" font-size="12.6" text-anchor="middle"><tspan font-style="italic">Im</tspan>(<tspan font-style="italic">β</tspan>)</text></g>
<ellipse cx="545.5" cy="63.5" rx="33.7" ry="6.8" transform="rotate(-31 545.5 63.5)" fill="none" stroke="#c40c1c" stroke-width="1.35" stroke-dasharray="5 3.5"/>
<ellipse cx="559.7" cy="74.8" rx="49.6" ry="8.2" transform="rotate(-31.4 559.7 74.8)" fill="none" stroke="#2f56a6" stroke-width="1.35" stroke-dasharray="5 3.5"/>
<line x1="538" y1="58.0" x2="428" y2="63.1" stroke="#c40c1c" stroke-width="1.35" stroke-dasharray="5 3.5"/>
<path d="M424.20,63.30 L428.89,60.69 L429.00,63.08 L429.10,65.48 Z" fill="#c40c1c"/>
<path d="M541.50,57.90 L537.99,59.96 L537.90,58.06 L537.82,56.16 Z" fill="#c40c1c"/>
<path d="M567.50,55.00 L569.14,51.52 L570.22,52.96 L571.30,54.40 Z" fill="#c40c1c"/>
<path d="M521.50,94.50 L523.32,91.36 L524.22,92.81 L525.11,94.25 Z" fill="#2f56a6"/>
<line x1="569" y1="79.9" x2="630" y2="79.9" stroke="#2f56a6" stroke-width="1.35" stroke-dasharray="5 3.5"/>
<path d="M634.50,79.90 L629.70,82.30 L629.70,79.90 L629.70,77.50 Z" fill="#2f56a6"/>
<ellipse cx="143" cy="273" rx="34" ry="20" transform="rotate(-32 143 273)" fill="none" stroke="#c40c1c" stroke-width="1.35" stroke-dasharray="5 3.5"/>
<ellipse cx="165" cy="305" rx="50.4" ry="10.6" transform="rotate(-32.4 165 305)" fill="none" stroke="#2f56a6" stroke-width="1.35" stroke-dasharray="5 3.5"/>
<line x1="122" y1="263.5" x2="59" y2="263.5" stroke="#c40c1c" stroke-width="1.35" stroke-dasharray="5 3.5"/>
<path d="M55.00,263.50 L59.80,261.10 L59.80,263.50 L59.80,265.90 Z" fill="#c40c1c"/>
<line x1="175.5" y1="310.8" x2="258" y2="310.8" stroke="#2f56a6" stroke-width="1.35" stroke-dasharray="5 3.5"/>
<path d="M262.30,310.80 L257.50,313.20 L257.50,310.80 L257.50,308.40 Z" fill="#2f56a6"/>
<ellipse cx="509.4" cy="259" rx="33.9" ry="12.5" transform="rotate(-31.6 509.4 259)" fill="none" stroke="#c40c1c" stroke-width="1.35" stroke-dasharray="5 3.5"/>
<ellipse cx="522.7" cy="319.7" rx="34" ry="20.7" transform="rotate(-32.7 522.7 319.7)" fill="none" stroke="#2f56a6" stroke-width="1.35" stroke-dasharray="5 3.5"/>
<line x1="505.8" y1="248.2" x2="426" y2="248.2" stroke="#c40c1c" stroke-width="1.35" stroke-dasharray="5 3.5"/>
<path d="M421.20,248.20 L426.00,245.80 L426.00,248.20 L426.00,250.60 Z" fill="#c40c1c"/>
<line x1="552.2" y1="310.4" x2="623" y2="310.4" stroke="#2f56a6" stroke-width="1.35" stroke-dasharray="5 3.5"/>
<path d="M627.50,310.40 L622.70,312.80 L622.70,310.40 L622.70,308.00 Z" fill="#2f56a6"/>
</svg></body></html>
